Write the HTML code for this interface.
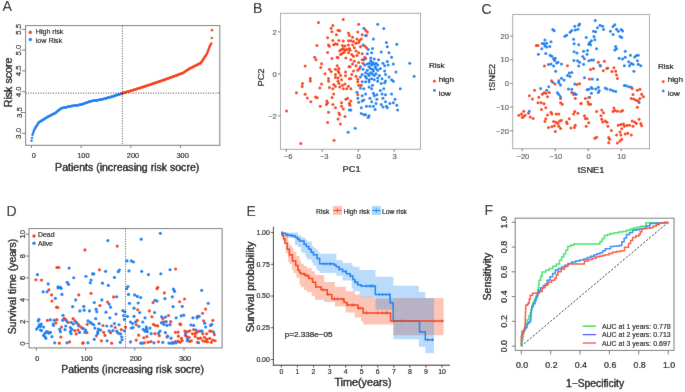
<!DOCTYPE html>
<html><head><meta charset="utf-8"><style>
html,body{margin:0;padding:0;background:#fff;}
svg{display:block;font-family:"Liberation Sans", sans-serif;}
#w{width:685px;height:392px;overflow:hidden;}
text.pl{stroke:none;}
</style></head><body><div id="w">
<svg width="685" height="392" viewBox="0 0 685 392">
<defs><filter id="bl" x="0" y="0" width="685" height="392" filterUnits="userSpaceOnUse"><feConvolveMatrix order="3" kernelMatrix="0.01 0.05 0.01 0.05 0.76 0.05 0.01 0.05 0.01" edgeMode="duplicate" preserveAlpha="false"/></filter></defs>
<g filter="url(#bl)">
<rect width="685" height="392" fill="#fff"/>
<text x="2.60" y="10.80" font-size="14.2" text-anchor="start" fill="#000" stroke="#000" stroke-width="0.35" class="pl">A</text>
<circle cx="31.50" cy="140.79" r="1.25" fill="#1082F0"/>
<circle cx="32.00" cy="137.95" r="1.25" fill="#1082F0"/>
<circle cx="32.49" cy="135.12" r="1.25" fill="#1082F0"/>
<circle cx="32.99" cy="133.40" r="1.25" fill="#1082F0"/>
<circle cx="33.49" cy="131.97" r="1.25" fill="#1082F0"/>
<circle cx="33.98" cy="130.54" r="1.25" fill="#1082F0"/>
<circle cx="34.48" cy="129.41" r="1.25" fill="#1082F0"/>
<circle cx="34.98" cy="128.47" r="1.25" fill="#1082F0"/>
<circle cx="35.47" cy="127.53" r="1.25" fill="#1082F0"/>
<circle cx="35.97" cy="126.68" r="1.25" fill="#1082F0"/>
<circle cx="36.47" cy="125.93" r="1.25" fill="#1082F0"/>
<circle cx="36.96" cy="125.18" r="1.25" fill="#1082F0"/>
<circle cx="37.46" cy="124.43" r="1.25" fill="#1082F0"/>
<circle cx="37.95" cy="123.68" r="1.25" fill="#1082F0"/>
<circle cx="38.45" cy="122.93" r="1.25" fill="#1082F0"/>
<circle cx="38.95" cy="122.36" r="1.25" fill="#1082F0"/>
<circle cx="39.44" cy="122.04" r="1.25" fill="#1082F0"/>
<circle cx="39.94" cy="121.73" r="1.25" fill="#1082F0"/>
<circle cx="40.44" cy="121.41" r="1.25" fill="#1082F0"/>
<circle cx="40.93" cy="121.09" r="1.25" fill="#1082F0"/>
<circle cx="41.43" cy="120.78" r="1.25" fill="#1082F0"/>
<circle cx="41.93" cy="120.46" r="1.25" fill="#1082F0"/>
<circle cx="42.42" cy="120.15" r="1.25" fill="#1082F0"/>
<circle cx="42.92" cy="119.83" r="1.25" fill="#1082F0"/>
<circle cx="43.42" cy="119.53" r="1.25" fill="#1082F0"/>
<circle cx="43.91" cy="119.22" r="1.25" fill="#1082F0"/>
<circle cx="44.41" cy="118.92" r="1.25" fill="#1082F0"/>
<circle cx="44.91" cy="118.61" r="1.25" fill="#1082F0"/>
<circle cx="45.40" cy="118.30" r="1.25" fill="#1082F0"/>
<circle cx="45.90" cy="118.00" r="1.25" fill="#1082F0"/>
<circle cx="46.39" cy="117.69" r="1.25" fill="#1082F0"/>
<circle cx="46.89" cy="117.38" r="1.25" fill="#1082F0"/>
<circle cx="47.39" cy="117.08" r="1.25" fill="#1082F0"/>
<circle cx="47.88" cy="116.83" r="1.25" fill="#1082F0"/>
<circle cx="48.38" cy="116.58" r="1.25" fill="#1082F0"/>
<circle cx="48.88" cy="116.33" r="1.25" fill="#1082F0"/>
<circle cx="49.37" cy="116.08" r="1.25" fill="#1082F0"/>
<circle cx="49.87" cy="115.83" r="1.25" fill="#1082F0"/>
<circle cx="50.37" cy="115.58" r="1.25" fill="#1082F0"/>
<circle cx="50.86" cy="115.33" r="1.25" fill="#1082F0"/>
<circle cx="51.36" cy="115.08" r="1.25" fill="#1082F0"/>
<circle cx="51.86" cy="114.83" r="1.25" fill="#1082F0"/>
<circle cx="52.35" cy="114.58" r="1.25" fill="#1082F0"/>
<circle cx="52.85" cy="114.33" r="1.25" fill="#1082F0"/>
<circle cx="53.35" cy="114.08" r="1.25" fill="#1082F0"/>
<circle cx="53.84" cy="113.83" r="1.25" fill="#1082F0"/>
<circle cx="54.34" cy="113.58" r="1.25" fill="#1082F0"/>
<circle cx="54.84" cy="113.33" r="1.25" fill="#1082F0"/>
<circle cx="55.33" cy="112.94" r="1.25" fill="#1082F0"/>
<circle cx="55.83" cy="112.55" r="1.25" fill="#1082F0"/>
<circle cx="56.33" cy="112.15" r="1.25" fill="#1082F0"/>
<circle cx="56.82" cy="111.76" r="1.25" fill="#1082F0"/>
<circle cx="57.32" cy="111.37" r="1.25" fill="#1082F0"/>
<circle cx="57.81" cy="110.97" r="1.25" fill="#1082F0"/>
<circle cx="58.31" cy="110.58" r="1.25" fill="#1082F0"/>
<circle cx="58.81" cy="110.19" r="1.25" fill="#1082F0"/>
<circle cx="59.30" cy="109.79" r="1.25" fill="#1082F0"/>
<circle cx="59.80" cy="109.40" r="1.25" fill="#1082F0"/>
<circle cx="60.30" cy="109.01" r="1.25" fill="#1082F0"/>
<circle cx="60.79" cy="108.62" r="1.25" fill="#1082F0"/>
<circle cx="61.29" cy="108.31" r="1.25" fill="#1082F0"/>
<circle cx="61.79" cy="108.19" r="1.25" fill="#1082F0"/>
<circle cx="62.28" cy="108.08" r="1.25" fill="#1082F0"/>
<circle cx="62.78" cy="107.96" r="1.25" fill="#1082F0"/>
<circle cx="63.28" cy="107.85" r="1.25" fill="#1082F0"/>
<circle cx="63.77" cy="107.74" r="1.25" fill="#1082F0"/>
<circle cx="64.27" cy="107.62" r="1.25" fill="#1082F0"/>
<circle cx="64.77" cy="107.51" r="1.25" fill="#1082F0"/>
<circle cx="65.26" cy="107.40" r="1.25" fill="#1082F0"/>
<circle cx="65.76" cy="107.28" r="1.25" fill="#1082F0"/>
<circle cx="66.25" cy="107.17" r="1.25" fill="#1082F0"/>
<circle cx="66.75" cy="107.06" r="1.25" fill="#1082F0"/>
<circle cx="67.25" cy="106.94" r="1.25" fill="#1082F0"/>
<circle cx="67.74" cy="106.83" r="1.25" fill="#1082F0"/>
<circle cx="68.24" cy="106.71" r="1.25" fill="#1082F0"/>
<circle cx="68.74" cy="106.60" r="1.25" fill="#1082F0"/>
<circle cx="69.23" cy="106.49" r="1.25" fill="#1082F0"/>
<circle cx="69.73" cy="106.37" r="1.25" fill="#1082F0"/>
<circle cx="70.23" cy="106.26" r="1.25" fill="#1082F0"/>
<circle cx="70.72" cy="106.18" r="1.25" fill="#1082F0"/>
<circle cx="71.22" cy="106.11" r="1.25" fill="#1082F0"/>
<circle cx="71.72" cy="106.03" r="1.25" fill="#1082F0"/>
<circle cx="72.21" cy="105.96" r="1.25" fill="#1082F0"/>
<circle cx="72.71" cy="105.88" r="1.25" fill="#1082F0"/>
<circle cx="73.21" cy="105.81" r="1.25" fill="#1082F0"/>
<circle cx="73.70" cy="105.73" r="1.25" fill="#1082F0"/>
<circle cx="74.20" cy="105.65" r="1.25" fill="#1082F0"/>
<circle cx="74.70" cy="105.58" r="1.25" fill="#1082F0"/>
<circle cx="75.19" cy="105.50" r="1.25" fill="#1082F0"/>
<circle cx="75.69" cy="105.43" r="1.25" fill="#1082F0"/>
<circle cx="76.19" cy="105.35" r="1.25" fill="#1082F0"/>
<circle cx="76.68" cy="105.28" r="1.25" fill="#1082F0"/>
<circle cx="77.18" cy="105.20" r="1.25" fill="#1082F0"/>
<circle cx="77.67" cy="105.13" r="1.25" fill="#1082F0"/>
<circle cx="78.17" cy="105.05" r="1.25" fill="#1082F0"/>
<circle cx="78.67" cy="104.97" r="1.25" fill="#1082F0"/>
<circle cx="79.16" cy="104.90" r="1.25" fill="#1082F0"/>
<circle cx="79.66" cy="104.82" r="1.25" fill="#1082F0"/>
<circle cx="80.16" cy="104.75" r="1.25" fill="#1082F0"/>
<circle cx="80.65" cy="104.67" r="1.25" fill="#1082F0"/>
<circle cx="81.15" cy="104.60" r="1.25" fill="#1082F0"/>
<circle cx="81.65" cy="104.42" r="1.25" fill="#1082F0"/>
<circle cx="82.14" cy="104.24" r="1.25" fill="#1082F0"/>
<circle cx="82.64" cy="104.06" r="1.25" fill="#1082F0"/>
<circle cx="83.14" cy="103.88" r="1.25" fill="#1082F0"/>
<circle cx="83.63" cy="103.70" r="1.25" fill="#1082F0"/>
<circle cx="84.13" cy="103.52" r="1.25" fill="#1082F0"/>
<circle cx="84.63" cy="103.34" r="1.25" fill="#1082F0"/>
<circle cx="85.12" cy="103.16" r="1.25" fill="#1082F0"/>
<circle cx="85.62" cy="102.99" r="1.25" fill="#1082F0"/>
<circle cx="86.12" cy="102.81" r="1.25" fill="#1082F0"/>
<circle cx="86.61" cy="102.63" r="1.25" fill="#1082F0"/>
<circle cx="87.11" cy="102.45" r="1.25" fill="#1082F0"/>
<circle cx="87.60" cy="102.27" r="1.25" fill="#1082F0"/>
<circle cx="88.10" cy="102.09" r="1.25" fill="#1082F0"/>
<circle cx="88.60" cy="101.91" r="1.25" fill="#1082F0"/>
<circle cx="89.09" cy="101.73" r="1.25" fill="#1082F0"/>
<circle cx="89.59" cy="101.55" r="1.25" fill="#1082F0"/>
<circle cx="90.09" cy="101.38" r="1.25" fill="#1082F0"/>
<circle cx="90.58" cy="101.24" r="1.25" fill="#1082F0"/>
<circle cx="91.08" cy="101.16" r="1.25" fill="#1082F0"/>
<circle cx="91.58" cy="101.08" r="1.25" fill="#1082F0"/>
<circle cx="92.07" cy="101.00" r="1.25" fill="#1082F0"/>
<circle cx="92.57" cy="100.93" r="1.25" fill="#1082F0"/>
<circle cx="93.07" cy="100.85" r="1.25" fill="#1082F0"/>
<circle cx="93.56" cy="100.77" r="1.25" fill="#1082F0"/>
<circle cx="94.06" cy="100.69" r="1.25" fill="#1082F0"/>
<circle cx="94.56" cy="100.61" r="1.25" fill="#1082F0"/>
<circle cx="95.05" cy="100.54" r="1.25" fill="#1082F0"/>
<circle cx="95.55" cy="100.46" r="1.25" fill="#1082F0"/>
<circle cx="96.05" cy="100.38" r="1.25" fill="#1082F0"/>
<circle cx="96.54" cy="100.30" r="1.25" fill="#1082F0"/>
<circle cx="97.04" cy="100.23" r="1.25" fill="#1082F0"/>
<circle cx="97.53" cy="100.15" r="1.25" fill="#1082F0"/>
<circle cx="98.03" cy="100.07" r="1.25" fill="#1082F0"/>
<circle cx="98.53" cy="99.99" r="1.25" fill="#1082F0"/>
<circle cx="99.02" cy="99.92" r="1.25" fill="#1082F0"/>
<circle cx="99.52" cy="99.84" r="1.25" fill="#1082F0"/>
<circle cx="100.02" cy="99.76" r="1.25" fill="#1082F0"/>
<circle cx="100.51" cy="99.68" r="1.25" fill="#1082F0"/>
<circle cx="101.01" cy="99.60" r="1.25" fill="#1082F0"/>
<circle cx="101.51" cy="99.47" r="1.25" fill="#1082F0"/>
<circle cx="102.00" cy="99.34" r="1.25" fill="#1082F0"/>
<circle cx="102.50" cy="99.20" r="1.25" fill="#1082F0"/>
<circle cx="103.00" cy="99.07" r="1.25" fill="#1082F0"/>
<circle cx="103.49" cy="98.94" r="1.25" fill="#1082F0"/>
<circle cx="103.99" cy="98.81" r="1.25" fill="#1082F0"/>
<circle cx="104.49" cy="98.67" r="1.25" fill="#1082F0"/>
<circle cx="104.98" cy="98.54" r="1.25" fill="#1082F0"/>
<circle cx="105.48" cy="98.41" r="1.25" fill="#1082F0"/>
<circle cx="105.97" cy="98.27" r="1.25" fill="#1082F0"/>
<circle cx="106.47" cy="98.14" r="1.25" fill="#1082F0"/>
<circle cx="106.97" cy="98.01" r="1.25" fill="#1082F0"/>
<circle cx="107.46" cy="97.87" r="1.25" fill="#1082F0"/>
<circle cx="107.96" cy="97.74" r="1.25" fill="#1082F0"/>
<circle cx="108.46" cy="97.61" r="1.25" fill="#1082F0"/>
<circle cx="108.95" cy="97.47" r="1.25" fill="#1082F0"/>
<circle cx="109.45" cy="97.34" r="1.25" fill="#1082F0"/>
<circle cx="109.95" cy="97.21" r="1.25" fill="#1082F0"/>
<circle cx="110.44" cy="97.07" r="1.25" fill="#1082F0"/>
<circle cx="110.94" cy="96.94" r="1.25" fill="#1082F0"/>
<circle cx="111.44" cy="96.81" r="1.25" fill="#1082F0"/>
<circle cx="111.93" cy="96.68" r="1.25" fill="#1082F0"/>
<circle cx="112.43" cy="96.54" r="1.25" fill="#1082F0"/>
<circle cx="112.93" cy="96.41" r="1.25" fill="#1082F0"/>
<circle cx="113.42" cy="96.28" r="1.25" fill="#1082F0"/>
<circle cx="113.92" cy="96.11" r="1.25" fill="#1082F0"/>
<circle cx="114.42" cy="95.95" r="1.25" fill="#1082F0"/>
<circle cx="114.91" cy="95.78" r="1.25" fill="#1082F0"/>
<circle cx="115.41" cy="95.61" r="1.25" fill="#1082F0"/>
<circle cx="115.91" cy="95.45" r="1.25" fill="#1082F0"/>
<circle cx="116.40" cy="95.28" r="1.25" fill="#1082F0"/>
<circle cx="116.90" cy="95.12" r="1.25" fill="#1082F0"/>
<circle cx="117.39" cy="94.95" r="1.25" fill="#1082F0"/>
<circle cx="117.89" cy="94.79" r="1.25" fill="#1082F0"/>
<circle cx="118.39" cy="94.62" r="1.25" fill="#1082F0"/>
<circle cx="118.88" cy="94.46" r="1.25" fill="#1082F0"/>
<circle cx="119.38" cy="94.29" r="1.25" fill="#1082F0"/>
<circle cx="119.88" cy="94.13" r="1.25" fill="#1082F0"/>
<circle cx="120.37" cy="93.96" r="1.25" fill="#1082F0"/>
<circle cx="120.87" cy="93.79" r="1.25" fill="#1082F0"/>
<circle cx="121.37" cy="93.63" r="1.25" fill="#1082F0"/>
<circle cx="121.86" cy="93.46" r="1.25" fill="#F63F0C"/>
<circle cx="122.36" cy="93.30" r="1.25" fill="#F63F0C"/>
<circle cx="122.86" cy="93.16" r="1.25" fill="#F63F0C"/>
<circle cx="123.35" cy="93.01" r="1.25" fill="#F63F0C"/>
<circle cx="123.85" cy="92.86" r="1.25" fill="#F63F0C"/>
<circle cx="124.35" cy="92.71" r="1.25" fill="#F63F0C"/>
<circle cx="124.84" cy="92.56" r="1.25" fill="#F63F0C"/>
<circle cx="125.34" cy="92.41" r="1.25" fill="#F63F0C"/>
<circle cx="125.83" cy="92.26" r="1.25" fill="#F63F0C"/>
<circle cx="126.33" cy="92.12" r="1.25" fill="#F63F0C"/>
<circle cx="126.83" cy="91.97" r="1.25" fill="#F63F0C"/>
<circle cx="127.32" cy="91.82" r="1.25" fill="#F63F0C"/>
<circle cx="127.82" cy="91.67" r="1.25" fill="#F63F0C"/>
<circle cx="128.32" cy="91.52" r="1.25" fill="#F63F0C"/>
<circle cx="128.81" cy="91.37" r="1.25" fill="#F63F0C"/>
<circle cx="129.31" cy="91.22" r="1.25" fill="#F63F0C"/>
<circle cx="129.81" cy="91.08" r="1.25" fill="#F63F0C"/>
<circle cx="130.30" cy="90.93" r="1.25" fill="#F63F0C"/>
<circle cx="130.80" cy="90.78" r="1.25" fill="#F63F0C"/>
<circle cx="131.30" cy="90.63" r="1.25" fill="#F63F0C"/>
<circle cx="131.79" cy="90.48" r="1.25" fill="#F63F0C"/>
<circle cx="132.29" cy="90.33" r="1.25" fill="#F63F0C"/>
<circle cx="132.79" cy="90.18" r="1.25" fill="#F63F0C"/>
<circle cx="133.28" cy="90.04" r="1.25" fill="#F63F0C"/>
<circle cx="133.78" cy="89.89" r="1.25" fill="#F63F0C"/>
<circle cx="134.28" cy="89.74" r="1.25" fill="#F63F0C"/>
<circle cx="134.77" cy="89.59" r="1.25" fill="#F63F0C"/>
<circle cx="135.27" cy="89.44" r="1.25" fill="#F63F0C"/>
<circle cx="135.76" cy="89.29" r="1.25" fill="#F63F0C"/>
<circle cx="136.26" cy="89.14" r="1.25" fill="#F63F0C"/>
<circle cx="136.76" cy="89.00" r="1.25" fill="#F63F0C"/>
<circle cx="137.25" cy="88.85" r="1.25" fill="#F63F0C"/>
<circle cx="137.75" cy="88.70" r="1.25" fill="#F63F0C"/>
<circle cx="138.25" cy="88.55" r="1.25" fill="#F63F0C"/>
<circle cx="138.74" cy="88.40" r="1.25" fill="#F63F0C"/>
<circle cx="139.24" cy="88.25" r="1.25" fill="#F63F0C"/>
<circle cx="139.74" cy="88.10" r="1.25" fill="#F63F0C"/>
<circle cx="140.23" cy="87.96" r="1.25" fill="#F63F0C"/>
<circle cx="140.73" cy="87.79" r="1.25" fill="#F63F0C"/>
<circle cx="141.23" cy="87.62" r="1.25" fill="#F63F0C"/>
<circle cx="141.72" cy="87.45" r="1.25" fill="#F63F0C"/>
<circle cx="142.22" cy="87.28" r="1.25" fill="#F63F0C"/>
<circle cx="142.72" cy="87.12" r="1.25" fill="#F63F0C"/>
<circle cx="143.21" cy="86.95" r="1.25" fill="#F63F0C"/>
<circle cx="143.71" cy="86.78" r="1.25" fill="#F63F0C"/>
<circle cx="144.21" cy="86.61" r="1.25" fill="#F63F0C"/>
<circle cx="144.70" cy="86.44" r="1.25" fill="#F63F0C"/>
<circle cx="145.20" cy="86.28" r="1.25" fill="#F63F0C"/>
<circle cx="145.69" cy="86.11" r="1.25" fill="#F63F0C"/>
<circle cx="146.19" cy="85.94" r="1.25" fill="#F63F0C"/>
<circle cx="146.69" cy="85.77" r="1.25" fill="#F63F0C"/>
<circle cx="147.18" cy="85.60" r="1.25" fill="#F63F0C"/>
<circle cx="147.68" cy="85.44" r="1.25" fill="#F63F0C"/>
<circle cx="148.18" cy="85.27" r="1.25" fill="#F63F0C"/>
<circle cx="148.67" cy="85.10" r="1.25" fill="#F63F0C"/>
<circle cx="149.17" cy="84.93" r="1.25" fill="#F63F0C"/>
<circle cx="149.67" cy="84.76" r="1.25" fill="#F63F0C"/>
<circle cx="150.16" cy="84.60" r="1.25" fill="#F63F0C"/>
<circle cx="150.66" cy="84.43" r="1.25" fill="#F63F0C"/>
<circle cx="151.16" cy="84.26" r="1.25" fill="#F63F0C"/>
<circle cx="151.65" cy="84.09" r="1.25" fill="#F63F0C"/>
<circle cx="152.15" cy="83.92" r="1.25" fill="#F63F0C"/>
<circle cx="152.65" cy="83.76" r="1.25" fill="#F63F0C"/>
<circle cx="153.14" cy="83.59" r="1.25" fill="#F63F0C"/>
<circle cx="153.64" cy="83.42" r="1.25" fill="#F63F0C"/>
<circle cx="154.14" cy="83.25" r="1.25" fill="#F63F0C"/>
<circle cx="154.63" cy="83.08" r="1.25" fill="#F63F0C"/>
<circle cx="155.13" cy="82.92" r="1.25" fill="#F63F0C"/>
<circle cx="155.62" cy="82.75" r="1.25" fill="#F63F0C"/>
<circle cx="156.12" cy="82.58" r="1.25" fill="#F63F0C"/>
<circle cx="156.62" cy="82.41" r="1.25" fill="#F63F0C"/>
<circle cx="157.11" cy="82.24" r="1.25" fill="#F63F0C"/>
<circle cx="157.61" cy="82.08" r="1.25" fill="#F63F0C"/>
<circle cx="158.11" cy="81.91" r="1.25" fill="#F63F0C"/>
<circle cx="158.60" cy="81.74" r="1.25" fill="#F63F0C"/>
<circle cx="159.10" cy="81.57" r="1.25" fill="#F63F0C"/>
<circle cx="159.60" cy="81.40" r="1.25" fill="#F63F0C"/>
<circle cx="160.09" cy="81.24" r="1.25" fill="#F63F0C"/>
<circle cx="160.59" cy="81.07" r="1.25" fill="#F63F0C"/>
<circle cx="161.09" cy="80.90" r="1.25" fill="#F63F0C"/>
<circle cx="161.58" cy="80.73" r="1.25" fill="#F63F0C"/>
<circle cx="162.08" cy="80.56" r="1.25" fill="#F63F0C"/>
<circle cx="162.58" cy="80.40" r="1.25" fill="#F63F0C"/>
<circle cx="163.07" cy="80.23" r="1.25" fill="#F63F0C"/>
<circle cx="163.57" cy="80.06" r="1.25" fill="#F63F0C"/>
<circle cx="164.07" cy="79.89" r="1.25" fill="#F63F0C"/>
<circle cx="164.56" cy="79.72" r="1.25" fill="#F63F0C"/>
<circle cx="165.06" cy="79.56" r="1.25" fill="#F63F0C"/>
<circle cx="165.56" cy="79.39" r="1.25" fill="#F63F0C"/>
<circle cx="166.05" cy="79.22" r="1.25" fill="#F63F0C"/>
<circle cx="166.55" cy="79.04" r="1.25" fill="#F63F0C"/>
<circle cx="167.04" cy="78.85" r="1.25" fill="#F63F0C"/>
<circle cx="167.54" cy="78.67" r="1.25" fill="#F63F0C"/>
<circle cx="168.04" cy="78.49" r="1.25" fill="#F63F0C"/>
<circle cx="168.53" cy="78.30" r="1.25" fill="#F63F0C"/>
<circle cx="169.03" cy="78.12" r="1.25" fill="#F63F0C"/>
<circle cx="169.53" cy="77.94" r="1.25" fill="#F63F0C"/>
<circle cx="170.02" cy="77.75" r="1.25" fill="#F63F0C"/>
<circle cx="170.52" cy="77.57" r="1.25" fill="#F63F0C"/>
<circle cx="171.02" cy="77.38" r="1.25" fill="#F63F0C"/>
<circle cx="171.51" cy="77.20" r="1.25" fill="#F63F0C"/>
<circle cx="172.01" cy="77.02" r="1.25" fill="#F63F0C"/>
<circle cx="172.51" cy="76.83" r="1.25" fill="#F63F0C"/>
<circle cx="173.00" cy="76.65" r="1.25" fill="#F63F0C"/>
<circle cx="173.50" cy="76.47" r="1.25" fill="#F63F0C"/>
<circle cx="174.00" cy="76.28" r="1.25" fill="#F63F0C"/>
<circle cx="174.49" cy="76.10" r="1.25" fill="#F63F0C"/>
<circle cx="174.99" cy="75.92" r="1.25" fill="#F63F0C"/>
<circle cx="175.48" cy="75.73" r="1.25" fill="#F63F0C"/>
<circle cx="175.98" cy="75.55" r="1.25" fill="#F63F0C"/>
<circle cx="176.48" cy="75.37" r="1.25" fill="#F63F0C"/>
<circle cx="176.97" cy="75.18" r="1.25" fill="#F63F0C"/>
<circle cx="177.47" cy="75.00" r="1.25" fill="#F63F0C"/>
<circle cx="177.97" cy="74.82" r="1.25" fill="#F63F0C"/>
<circle cx="178.46" cy="74.63" r="1.25" fill="#F63F0C"/>
<circle cx="178.96" cy="74.45" r="1.25" fill="#F63F0C"/>
<circle cx="179.46" cy="74.26" r="1.25" fill="#F63F0C"/>
<circle cx="179.95" cy="74.08" r="1.25" fill="#F63F0C"/>
<circle cx="180.45" cy="73.90" r="1.25" fill="#F63F0C"/>
<circle cx="180.95" cy="73.71" r="1.25" fill="#F63F0C"/>
<circle cx="181.44" cy="73.53" r="1.25" fill="#F63F0C"/>
<circle cx="181.94" cy="73.35" r="1.25" fill="#F63F0C"/>
<circle cx="182.44" cy="73.16" r="1.25" fill="#F63F0C"/>
<circle cx="182.93" cy="72.98" r="1.25" fill="#F63F0C"/>
<circle cx="183.43" cy="72.66" r="1.25" fill="#F63F0C"/>
<circle cx="183.93" cy="72.33" r="1.25" fill="#F63F0C"/>
<circle cx="184.42" cy="72.00" r="1.25" fill="#F63F0C"/>
<circle cx="184.92" cy="71.68" r="1.25" fill="#F63F0C"/>
<circle cx="185.41" cy="71.36" r="1.25" fill="#F63F0C"/>
<circle cx="185.91" cy="71.03" r="1.25" fill="#F63F0C"/>
<circle cx="186.41" cy="70.70" r="1.25" fill="#F63F0C"/>
<circle cx="186.90" cy="70.38" r="1.25" fill="#F63F0C"/>
<circle cx="187.40" cy="70.06" r="1.25" fill="#F63F0C"/>
<circle cx="187.90" cy="69.73" r="1.25" fill="#F63F0C"/>
<circle cx="188.39" cy="69.41" r="1.25" fill="#F63F0C"/>
<circle cx="188.89" cy="69.08" r="1.25" fill="#F63F0C"/>
<circle cx="189.39" cy="68.77" r="1.25" fill="#F63F0C"/>
<circle cx="189.88" cy="68.52" r="1.25" fill="#F63F0C"/>
<circle cx="190.38" cy="68.28" r="1.25" fill="#F63F0C"/>
<circle cx="190.88" cy="68.03" r="1.25" fill="#F63F0C"/>
<circle cx="191.37" cy="67.79" r="1.25" fill="#F63F0C"/>
<circle cx="191.87" cy="67.54" r="1.25" fill="#F63F0C"/>
<circle cx="192.37" cy="67.29" r="1.25" fill="#F63F0C"/>
<circle cx="192.86" cy="67.05" r="1.25" fill="#F63F0C"/>
<circle cx="193.36" cy="66.80" r="1.25" fill="#F63F0C"/>
<circle cx="193.86" cy="66.55" r="1.25" fill="#F63F0C"/>
<circle cx="194.35" cy="66.31" r="1.25" fill="#F63F0C"/>
<circle cx="194.85" cy="66.06" r="1.25" fill="#F63F0C"/>
<circle cx="195.34" cy="65.81" r="1.25" fill="#F63F0C"/>
<circle cx="195.84" cy="65.57" r="1.25" fill="#F63F0C"/>
<circle cx="196.34" cy="65.32" r="1.25" fill="#F63F0C"/>
<circle cx="196.83" cy="65.08" r="1.25" fill="#F63F0C"/>
<circle cx="197.33" cy="64.82" r="1.25" fill="#F63F0C"/>
<circle cx="197.83" cy="64.56" r="1.25" fill="#F63F0C"/>
<circle cx="198.32" cy="64.30" r="1.25" fill="#F63F0C"/>
<circle cx="198.82" cy="64.04" r="1.25" fill="#F63F0C"/>
<circle cx="199.32" cy="63.78" r="1.25" fill="#F63F0C"/>
<circle cx="199.81" cy="63.52" r="1.25" fill="#F63F0C"/>
<circle cx="200.31" cy="63.26" r="1.25" fill="#F63F0C"/>
<circle cx="200.81" cy="63.00" r="1.25" fill="#F63F0C"/>
<circle cx="201.30" cy="62.27" r="1.25" fill="#F63F0C"/>
<circle cx="201.80" cy="61.55" r="1.25" fill="#F63F0C"/>
<circle cx="202.30" cy="60.83" r="1.25" fill="#F63F0C"/>
<circle cx="202.79" cy="60.10" r="1.25" fill="#F63F0C"/>
<circle cx="203.29" cy="59.37" r="1.25" fill="#F63F0C"/>
<circle cx="203.79" cy="58.61" r="1.25" fill="#F63F0C"/>
<circle cx="204.28" cy="57.85" r="1.25" fill="#F63F0C"/>
<circle cx="204.78" cy="57.10" r="1.25" fill="#F63F0C"/>
<circle cx="205.28" cy="56.34" r="1.25" fill="#F63F0C"/>
<circle cx="205.77" cy="55.58" r="1.25" fill="#F63F0C"/>
<circle cx="206.27" cy="54.83" r="1.25" fill="#F63F0C"/>
<circle cx="206.76" cy="54.07" r="1.25" fill="#F63F0C"/>
<circle cx="207.26" cy="52.91" r="1.25" fill="#F63F0C"/>
<circle cx="207.76" cy="51.59" r="1.25" fill="#F63F0C"/>
<circle cx="208.25" cy="50.26" r="1.25" fill="#F63F0C"/>
<circle cx="208.75" cy="48.93" r="1.25" fill="#F63F0C"/>
<circle cx="209.25" cy="47.60" r="1.25" fill="#F63F0C"/>
<circle cx="209.74" cy="46.61" r="1.25" fill="#F63F0C"/>
<circle cx="210.24" cy="45.61" r="1.25" fill="#F63F0C"/>
<circle cx="210.74" cy="44.62" r="1.25" fill="#F63F0C"/>
<circle cx="211.23" cy="43.62" r="1.25" fill="#F63F0C"/>
<circle cx="211.88" cy="38.04" r="1.3" fill="#F63F0C"/>
<circle cx="212.03" cy="30.13" r="1.3" fill="#F63F0C"/>
<rect x="25.60" y="25.60" width="194.20" height="119.70" fill="none" stroke="#777" stroke-width="1"/>
<line x1="22.10" y1="133.30" x2="25.60" y2="133.30" stroke="#777" stroke-width="1"/>
<text x="21.50" y="133.30" font-size="7.7" text-anchor="middle" fill="#000" stroke="#000" stroke-width="0.15" transform="rotate(-90 21.50 133.30)">3.0</text>
<line x1="22.10" y1="112.50" x2="25.60" y2="112.50" stroke="#777" stroke-width="1"/>
<text x="21.50" y="112.50" font-size="7.7" text-anchor="middle" fill="#000" stroke="#000" stroke-width="0.15" transform="rotate(-90 21.50 112.50)">3.5</text>
<line x1="22.10" y1="91.70" x2="25.60" y2="91.70" stroke="#777" stroke-width="1"/>
<text x="21.50" y="91.70" font-size="7.7" text-anchor="middle" fill="#000" stroke="#000" stroke-width="0.15" transform="rotate(-90 21.50 91.70)">4.0</text>
<line x1="22.10" y1="70.90" x2="25.60" y2="70.90" stroke="#777" stroke-width="1"/>
<text x="21.50" y="70.90" font-size="7.7" text-anchor="middle" fill="#000" stroke="#000" stroke-width="0.15" transform="rotate(-90 21.50 70.90)">4.5</text>
<line x1="22.10" y1="50.10" x2="25.60" y2="50.10" stroke="#777" stroke-width="1"/>
<text x="21.50" y="50.10" font-size="7.7" text-anchor="middle" fill="#000" stroke="#000" stroke-width="0.15" transform="rotate(-90 21.50 50.10)">5.0</text>
<line x1="22.10" y1="29.30" x2="25.60" y2="29.30" stroke="#777" stroke-width="1"/>
<text x="21.50" y="29.30" font-size="7.7" text-anchor="middle" fill="#000" stroke="#000" stroke-width="0.15" transform="rotate(-90 21.50 29.30)">5.5</text>
<line x1="31.50" y1="145.30" x2="31.50" y2="148.00" stroke="#777" stroke-width="1"/>
<text x="33.70" y="158.00" font-size="7.4" text-anchor="middle" fill="#000" stroke="#000" stroke-width="0.15">0</text>
<line x1="81.15" y1="145.30" x2="81.15" y2="148.00" stroke="#777" stroke-width="1"/>
<text x="83.35" y="158.00" font-size="7.4" text-anchor="middle" fill="#000" stroke="#000" stroke-width="0.15">100</text>
<line x1="130.80" y1="145.30" x2="130.80" y2="148.00" stroke="#777" stroke-width="1"/>
<text x="133.00" y="158.00" font-size="7.4" text-anchor="middle" fill="#000" stroke="#000" stroke-width="0.15">200</text>
<line x1="180.45" y1="145.30" x2="180.45" y2="148.00" stroke="#777" stroke-width="1"/>
<text x="182.65" y="158.00" font-size="7.4" text-anchor="middle" fill="#000" stroke="#000" stroke-width="0.15">300</text>
<text x="127.20" y="170.60" font-size="10.55" text-anchor="middle" fill="#000" stroke="#000" stroke-width="0.35">Patients (increasing risk socre)</text>
<text x="11.90" y="82.40" font-size="10.7" text-anchor="middle" fill="#000" stroke="#000" stroke-width="0.35" transform="rotate(-90 11.90 82.40)">Risk score</text>
<line x1="25.60" y1="93.10" x2="219.80" y2="93.10" stroke="#222" stroke-width="0.9" stroke-dasharray="1,1.5"/>
<line x1="122.40" y1="25.60" x2="122.40" y2="145.30" stroke="#222" stroke-width="0.9" stroke-dasharray="1,1.5"/>
<circle cx="30.30" cy="32.30" r="1.75" fill="#F63F0C"/>
<text x="35.80" y="33.90" font-size="7.1" text-anchor="start" fill="#000" stroke="#000" stroke-width="0.15">High risk</text>
<circle cx="30.30" cy="39.50" r="1.75" fill="#1082F0"/>
<text x="35.80" y="42.90" font-size="7.1" text-anchor="start" fill="#000" stroke="#000" stroke-width="0.15">low Risk</text>
<text x="253.00" y="12.80" font-size="14" text-anchor="start" fill="#000" stroke="#000" stroke-width="0.35" class="pl">B</text>
<circle cx="318.47" cy="22.53" r="1.5" fill="#F63F0C"/>
<circle cx="343.25" cy="19.58" r="1.5" fill="#F63F0C"/>
<circle cx="332.85" cy="25.48" r="1.5" fill="#F63F0C"/>
<circle cx="331.12" cy="28.25" r="1.5" fill="#F63F0C"/>
<circle cx="331.98" cy="31.71" r="1.5" fill="#F63F0C"/>
<circle cx="338.05" cy="30.33" r="1.5" fill="#F63F0C"/>
<circle cx="339.78" cy="30.85" r="1.5" fill="#F63F0C"/>
<circle cx="336.32" cy="34.66" r="1.5" fill="#F63F0C"/>
<circle cx="348.45" cy="32.93" r="1.5" fill="#F63F0C"/>
<circle cx="349.31" cy="35.53" r="1.5" fill="#F63F0C"/>
<circle cx="327.65" cy="37.78" r="1.5" fill="#F63F0C"/>
<circle cx="332.85" cy="40.38" r="1.5" fill="#F63F0C"/>
<circle cx="338.92" cy="40.38" r="1.5" fill="#F63F0C"/>
<circle cx="343.25" cy="41.07" r="1.5" fill="#F63F0C"/>
<circle cx="348.45" cy="40.72" r="1.5" fill="#F63F0C"/>
<circle cx="316.91" cy="45.58" r="1.5" fill="#F63F0C"/>
<circle cx="328.52" cy="45.06" r="1.5" fill="#F63F0C"/>
<circle cx="329.38" cy="46.27" r="1.5" fill="#F63F0C"/>
<circle cx="333.72" cy="44.71" r="1.5" fill="#F63F0C"/>
<circle cx="335.45" cy="43.84" r="1.5" fill="#F63F0C"/>
<circle cx="337.18" cy="44.19" r="1.5" fill="#F63F0C"/>
<circle cx="342.38" cy="45.58" r="1.5" fill="#F63F0C"/>
<circle cx="344.98" cy="45.92" r="1.5" fill="#F63F0C"/>
<circle cx="348.45" cy="45.06" r="1.5" fill="#F63F0C"/>
<circle cx="339.78" cy="50.78" r="1.5" fill="#F63F0C"/>
<circle cx="341.51" cy="49.39" r="1.5" fill="#F63F0C"/>
<circle cx="343.25" cy="48.52" r="1.5" fill="#F63F0C"/>
<circle cx="344.98" cy="50.26" r="1.5" fill="#F63F0C"/>
<circle cx="346.71" cy="49.39" r="1.5" fill="#F63F0C"/>
<circle cx="349.31" cy="48.52" r="1.5" fill="#F63F0C"/>
<circle cx="327.65" cy="52.51" r="1.5" fill="#F63F0C"/>
<circle cx="340.65" cy="54.59" r="1.5" fill="#F63F0C"/>
<circle cx="342.38" cy="53.20" r="1.5" fill="#F63F0C"/>
<circle cx="344.11" cy="52.51" r="1.5" fill="#F63F0C"/>
<circle cx="348.45" cy="52.85" r="1.5" fill="#F63F0C"/>
<circle cx="314.66" cy="57.19" r="1.5" fill="#F63F0C"/>
<circle cx="316.04" cy="59.79" r="1.5" fill="#F63F0C"/>
<circle cx="331.98" cy="58.40" r="1.5" fill="#F63F0C"/>
<circle cx="337.18" cy="57.19" r="1.5" fill="#F63F0C"/>
<circle cx="338.05" cy="57.71" r="1.5" fill="#F63F0C"/>
<circle cx="345.85" cy="58.05" r="1.5" fill="#F63F0C"/>
<circle cx="321.59" cy="63.77" r="1.5" fill="#F63F0C"/>
<circle cx="305.13" cy="66.02" r="1.5" fill="#F63F0C"/>
<circle cx="320.72" cy="67.58" r="1.5" fill="#F63F0C"/>
<circle cx="337.18" cy="65.85" r="1.5" fill="#F63F0C"/>
<circle cx="338.92" cy="68.45" r="1.5" fill="#F63F0C"/>
<circle cx="348.97" cy="66.72" r="1.5" fill="#F63F0C"/>
<circle cx="329.38" cy="69.32" r="1.5" fill="#F63F0C"/>
<circle cx="331.12" cy="71.57" r="1.5" fill="#F63F0C"/>
<circle cx="335.45" cy="69.32" r="1.5" fill="#F63F0C"/>
<circle cx="338.05" cy="71.05" r="1.5" fill="#F63F0C"/>
<circle cx="345.50" cy="71.92" r="1.5" fill="#F63F0C"/>
<circle cx="325.05" cy="73.65" r="1.5" fill="#F63F0C"/>
<circle cx="335.45" cy="74.51" r="1.5" fill="#F63F0C"/>
<circle cx="338.92" cy="72.78" r="1.5" fill="#F63F0C"/>
<circle cx="340.65" cy="75.38" r="1.5" fill="#F63F0C"/>
<circle cx="345.50" cy="75.73" r="1.5" fill="#F63F0C"/>
<circle cx="310.32" cy="78.50" r="1.5" fill="#F63F0C"/>
<circle cx="328.52" cy="78.50" r="1.5" fill="#F63F0C"/>
<circle cx="335.45" cy="77.46" r="1.5" fill="#F63F0C"/>
<circle cx="338.05" cy="77.98" r="1.5" fill="#F63F0C"/>
<circle cx="341.51" cy="79.71" r="1.5" fill="#F63F0C"/>
<circle cx="349.31" cy="78.85" r="1.5" fill="#F63F0C"/>
<circle cx="358.66" cy="24.26" r="1.5" fill="#F63F0C"/>
<circle cx="357.80" cy="32.06" r="1.5" fill="#F63F0C"/>
<circle cx="362.13" cy="34.66" r="1.5" fill="#F63F0C"/>
<circle cx="365.60" cy="30.33" r="1.5" fill="#F63F0C"/>
<circle cx="367.33" cy="32.06" r="1.5" fill="#F63F0C"/>
<circle cx="366.46" cy="35.53" r="1.5" fill="#F63F0C"/>
<circle cx="352.60" cy="37.26" r="1.5" fill="#F63F0C"/>
<circle cx="356.93" cy="38.99" r="1.5" fill="#F63F0C"/>
<circle cx="359.53" cy="40.38" r="1.5" fill="#F63F0C"/>
<circle cx="361.26" cy="38.99" r="1.5" fill="#F63F0C"/>
<circle cx="350.87" cy="40.72" r="1.5" fill="#F63F0C"/>
<circle cx="353.47" cy="41.59" r="1.5" fill="#F63F0C"/>
<circle cx="356.06" cy="43.32" r="1.5" fill="#F63F0C"/>
<circle cx="358.66" cy="42.46" r="1.5" fill="#F63F0C"/>
<circle cx="352.60" cy="45.06" r="1.5" fill="#F63F0C"/>
<circle cx="354.33" cy="47.66" r="1.5" fill="#F63F0C"/>
<circle cx="360.40" cy="46.79" r="1.5" fill="#F63F0C"/>
<circle cx="364.73" cy="45.92" r="1.5" fill="#F63F0C"/>
<circle cx="366.46" cy="47.66" r="1.5" fill="#F63F0C"/>
<circle cx="350.00" cy="50.26" r="1.5" fill="#F63F0C"/>
<circle cx="356.06" cy="51.12" r="1.5" fill="#F63F0C"/>
<circle cx="358.66" cy="52.85" r="1.5" fill="#F63F0C"/>
<circle cx="362.13" cy="53.72" r="1.5" fill="#F63F0C"/>
<circle cx="351.73" cy="54.59" r="1.5" fill="#F63F0C"/>
<circle cx="353.47" cy="56.32" r="1.5" fill="#F63F0C"/>
<circle cx="356.93" cy="55.45" r="1.5" fill="#F63F0C"/>
<circle cx="364.73" cy="57.19" r="1.5" fill="#F63F0C"/>
<circle cx="365.60" cy="58.40" r="1.5" fill="#F63F0C"/>
<circle cx="362.13" cy="59.79" r="1.5" fill="#F63F0C"/>
<circle cx="350.87" cy="59.79" r="1.5" fill="#F63F0C"/>
<circle cx="354.33" cy="61.17" r="1.5" fill="#F63F0C"/>
<circle cx="358.66" cy="62.38" r="1.5" fill="#F63F0C"/>
<circle cx="363.00" cy="63.25" r="1.5" fill="#F63F0C"/>
<circle cx="352.60" cy="64.12" r="1.5" fill="#F63F0C"/>
<circle cx="356.06" cy="65.85" r="1.5" fill="#F63F0C"/>
<circle cx="350.00" cy="66.72" r="1.5" fill="#F63F0C"/>
<circle cx="359.53" cy="68.45" r="1.5" fill="#F63F0C"/>
<circle cx="353.47" cy="71.05" r="1.5" fill="#F63F0C"/>
<circle cx="357.80" cy="70.18" r="1.5" fill="#F63F0C"/>
<circle cx="351.73" cy="74.51" r="1.5" fill="#F63F0C"/>
<circle cx="356.06" cy="76.25" r="1.5" fill="#F63F0C"/>
<circle cx="350.87" cy="78.85" r="1.5" fill="#F63F0C"/>
<circle cx="357.80" cy="79.19" r="1.5" fill="#F63F0C"/>
<circle cx="377.72" cy="24.26" r="1.5" fill="#1082F0"/>
<circle cx="383.79" cy="28.60" r="1.5" fill="#1082F0"/>
<circle cx="363.86" cy="28.25" r="1.5" fill="#1082F0"/>
<circle cx="365.60" cy="35.53" r="1.5" fill="#1082F0"/>
<circle cx="373.39" cy="38.99" r="1.5" fill="#1082F0"/>
<circle cx="386.39" cy="42.46" r="1.5" fill="#1082F0"/>
<circle cx="396.79" cy="44.19" r="1.5" fill="#1082F0"/>
<circle cx="363.00" cy="45.06" r="1.5" fill="#1082F0"/>
<circle cx="387.26" cy="46.79" r="1.5" fill="#1082F0"/>
<circle cx="368.19" cy="49.39" r="1.5" fill="#1082F0"/>
<circle cx="372.53" cy="48.52" r="1.5" fill="#1082F0"/>
<circle cx="381.19" cy="51.99" r="1.5" fill="#1082F0"/>
<circle cx="388.99" cy="52.85" r="1.5" fill="#1082F0"/>
<circle cx="371.66" cy="52.85" r="1.5" fill="#1082F0"/>
<circle cx="367.33" cy="53.72" r="1.5" fill="#1082F0"/>
<circle cx="391.59" cy="57.19" r="1.5" fill="#1082F0"/>
<circle cx="370.79" cy="58.05" r="1.5" fill="#1082F0"/>
<circle cx="374.26" cy="58.92" r="1.5" fill="#1082F0"/>
<circle cx="378.59" cy="59.79" r="1.5" fill="#1082F0"/>
<circle cx="363.86" cy="59.79" r="1.5" fill="#1082F0"/>
<circle cx="387.26" cy="61.52" r="1.5" fill="#1082F0"/>
<circle cx="393.32" cy="64.12" r="1.5" fill="#1082F0"/>
<circle cx="409.78" cy="63.25" r="1.5" fill="#1082F0"/>
<circle cx="382.92" cy="63.25" r="1.5" fill="#1082F0"/>
<circle cx="367.33" cy="64.12" r="1.5" fill="#1082F0"/>
<circle cx="372.53" cy="62.38" r="1.5" fill="#1082F0"/>
<circle cx="375.99" cy="63.25" r="1.5" fill="#1082F0"/>
<circle cx="377.72" cy="64.98" r="1.5" fill="#1082F0"/>
<circle cx="384.66" cy="65.85" r="1.5" fill="#1082F0"/>
<circle cx="388.12" cy="64.98" r="1.5" fill="#1082F0"/>
<circle cx="360.40" cy="66.72" r="1.5" fill="#1082F0"/>
<circle cx="369.06" cy="66.72" r="1.5" fill="#1082F0"/>
<circle cx="375.13" cy="66.72" r="1.5" fill="#1082F0"/>
<circle cx="380.32" cy="68.45" r="1.5" fill="#1082F0"/>
<circle cx="363.00" cy="69.32" r="1.5" fill="#1082F0"/>
<circle cx="367.33" cy="70.18" r="1.5" fill="#1082F0"/>
<circle cx="372.53" cy="69.32" r="1.5" fill="#1082F0"/>
<circle cx="377.72" cy="70.18" r="1.5" fill="#1082F0"/>
<circle cx="384.66" cy="71.05" r="1.5" fill="#1082F0"/>
<circle cx="395.92" cy="71.92" r="1.5" fill="#1082F0"/>
<circle cx="365.60" cy="72.78" r="1.5" fill="#1082F0"/>
<circle cx="370.79" cy="72.78" r="1.5" fill="#1082F0"/>
<circle cx="375.99" cy="73.65" r="1.5" fill="#1082F0"/>
<circle cx="362.13" cy="74.51" r="1.5" fill="#1082F0"/>
<circle cx="369.06" cy="75.38" r="1.5" fill="#1082F0"/>
<circle cx="374.26" cy="75.38" r="1.5" fill="#1082F0"/>
<circle cx="379.46" cy="75.38" r="1.5" fill="#1082F0"/>
<circle cx="385.52" cy="74.51" r="1.5" fill="#1082F0"/>
<circle cx="388.99" cy="77.11" r="1.5" fill="#1082F0"/>
<circle cx="360.40" cy="77.11" r="1.5" fill="#1082F0"/>
<circle cx="366.46" cy="77.98" r="1.5" fill="#1082F0"/>
<circle cx="371.66" cy="78.85" r="1.5" fill="#1082F0"/>
<circle cx="382.06" cy="78.85" r="1.5" fill="#1082F0"/>
<circle cx="414.11" cy="76.25" r="1.5" fill="#1082F0"/>
<circle cx="391.59" cy="79.71" r="1.5" fill="#1082F0"/>
<circle cx="369.41" cy="63.25" r="1.5" fill="#1082F0"/>
<circle cx="371.66" cy="64.98" r="1.5" fill="#1082F0"/>
<circle cx="374.26" cy="64.12" r="1.5" fill="#1082F0"/>
<circle cx="370.45" cy="68.45" r="1.5" fill="#1082F0"/>
<circle cx="373.39" cy="71.05" r="1.5" fill="#1082F0"/>
<circle cx="375.99" cy="68.45" r="1.5" fill="#1082F0"/>
<circle cx="368.19" cy="73.99" r="1.5" fill="#1082F0"/>
<circle cx="372.18" cy="73.99" r="1.5" fill="#1082F0"/>
<circle cx="365.25" cy="76.25" r="1.5" fill="#1082F0"/>
<circle cx="377.72" cy="77.98" r="1.5" fill="#1082F0"/>
<circle cx="369.06" cy="79.71" r="1.5" fill="#1082F0"/>
<circle cx="374.26" cy="79.71" r="1.5" fill="#1082F0"/>
<circle cx="364.73" cy="64.98" r="1.5" fill="#1082F0"/>
<circle cx="370.79" cy="60.65" r="1.5" fill="#1082F0"/>
<circle cx="302.53" cy="83.60" r="1.5" fill="#F63F0C"/>
<circle cx="302.18" cy="86.54" r="1.5" fill="#F63F0C"/>
<circle cx="310.32" cy="81.00" r="1.5" fill="#F63F0C"/>
<circle cx="321.59" cy="84.12" r="1.5" fill="#F63F0C"/>
<circle cx="319.85" cy="87.93" r="1.5" fill="#F63F0C"/>
<circle cx="296.46" cy="92.78" r="1.5" fill="#F63F0C"/>
<circle cx="305.13" cy="94.34" r="1.5" fill="#F63F0C"/>
<circle cx="307.38" cy="97.98" r="1.5" fill="#F63F0C"/>
<circle cx="310.84" cy="101.79" r="1.5" fill="#F63F0C"/>
<circle cx="315.52" cy="96.94" r="1.5" fill="#F63F0C"/>
<circle cx="317.26" cy="97.81" r="1.5" fill="#F63F0C"/>
<circle cx="320.20" cy="106.13" r="1.5" fill="#F63F0C"/>
<circle cx="326.79" cy="100.93" r="1.5" fill="#F63F0C"/>
<circle cx="327.65" cy="102.66" r="1.5" fill="#F63F0C"/>
<circle cx="326.44" cy="104.39" r="1.5" fill="#F63F0C"/>
<circle cx="328.52" cy="112.19" r="1.5" fill="#F63F0C"/>
<circle cx="329.38" cy="87.58" r="1.5" fill="#F63F0C"/>
<circle cx="332.85" cy="88.80" r="1.5" fill="#F63F0C"/>
<circle cx="333.72" cy="84.47" r="1.5" fill="#F63F0C"/>
<circle cx="335.45" cy="86.20" r="1.5" fill="#F63F0C"/>
<circle cx="338.92" cy="83.60" r="1.5" fill="#F63F0C"/>
<circle cx="339.78" cy="87.06" r="1.5" fill="#F63F0C"/>
<circle cx="342.38" cy="85.33" r="1.5" fill="#F63F0C"/>
<circle cx="344.98" cy="84.12" r="1.5" fill="#F63F0C"/>
<circle cx="346.71" cy="88.80" r="1.5" fill="#F63F0C"/>
<circle cx="348.45" cy="86.20" r="1.5" fill="#F63F0C"/>
<circle cx="343.25" cy="88.80" r="1.5" fill="#F63F0C"/>
<circle cx="331.98" cy="97.46" r="1.5" fill="#F63F0C"/>
<circle cx="333.72" cy="94.00" r="1.5" fill="#F63F0C"/>
<circle cx="332.85" cy="104.39" r="1.5" fill="#F63F0C"/>
<circle cx="335.45" cy="107.86" r="1.5" fill="#F63F0C"/>
<circle cx="341.51" cy="102.66" r="1.5" fill="#F63F0C"/>
<circle cx="341.51" cy="106.13" r="1.5" fill="#F63F0C"/>
<circle cx="345.85" cy="99.19" r="1.5" fill="#F63F0C"/>
<circle cx="347.58" cy="98.33" r="1.5" fill="#F63F0C"/>
<circle cx="349.31" cy="103.53" r="1.5" fill="#F63F0C"/>
<circle cx="343.25" cy="109.07" r="1.5" fill="#F63F0C"/>
<circle cx="338.92" cy="113.06" r="1.5" fill="#F63F0C"/>
<circle cx="339.78" cy="114.79" r="1.5" fill="#F63F0C"/>
<circle cx="338.05" cy="119.12" r="1.5" fill="#F63F0C"/>
<circle cx="344.98" cy="116.52" r="1.5" fill="#F63F0C"/>
<circle cx="327.65" cy="122.59" r="1.5" fill="#F63F0C"/>
<circle cx="340.30" cy="123.97" r="1.5" fill="#F63F0C"/>
<circle cx="286.58" cy="110.98" r="1.5" fill="#F63F0C"/>
<circle cx="334.06" cy="140.26" r="1.5" fill="#F63F0C"/>
<circle cx="300.79" cy="143.38" r="1.5" fill="#F63F0C"/>
<circle cx="328.52" cy="81.35" r="1.5" fill="#F63F0C"/>
<circle cx="338.05" cy="81.35" r="1.5" fill="#F63F0C"/>
<circle cx="349.31" cy="110.11" r="1.5" fill="#1082F0"/>
<circle cx="348.10" cy="132.29" r="1.5" fill="#1082F0"/>
<circle cx="357.80" cy="81.87" r="1.5" fill="#F63F0C"/>
<circle cx="358.66" cy="85.33" r="1.5" fill="#F63F0C"/>
<circle cx="361.26" cy="85.33" r="1.5" fill="#F63F0C"/>
<circle cx="357.80" cy="94.86" r="1.5" fill="#F63F0C"/>
<circle cx="350.87" cy="88.80" r="1.5" fill="#F63F0C"/>
<circle cx="350.87" cy="100.93" r="1.5" fill="#F63F0C"/>
<circle cx="350.00" cy="105.26" r="1.5" fill="#F63F0C"/>
<circle cx="362.13" cy="81.87" r="1.5" fill="#1082F0"/>
<circle cx="365.60" cy="81.87" r="1.5" fill="#1082F0"/>
<circle cx="369.06" cy="81.87" r="1.5" fill="#1082F0"/>
<circle cx="377.72" cy="81.35" r="1.5" fill="#1082F0"/>
<circle cx="381.19" cy="83.60" r="1.5" fill="#1082F0"/>
<circle cx="384.66" cy="82.73" r="1.5" fill="#1082F0"/>
<circle cx="385.52" cy="81.00" r="1.5" fill="#1082F0"/>
<circle cx="393.32" cy="81.35" r="1.5" fill="#1082F0"/>
<circle cx="360.40" cy="87.93" r="1.5" fill="#1082F0"/>
<circle cx="363.86" cy="88.80" r="1.5" fill="#1082F0"/>
<circle cx="369.06" cy="87.06" r="1.5" fill="#1082F0"/>
<circle cx="372.53" cy="85.33" r="1.5" fill="#1082F0"/>
<circle cx="371.66" cy="88.80" r="1.5" fill="#1082F0"/>
<circle cx="380.32" cy="90.53" r="1.5" fill="#1082F0"/>
<circle cx="383.79" cy="88.80" r="1.5" fill="#1082F0"/>
<circle cx="400.25" cy="88.80" r="1.5" fill="#1082F0"/>
<circle cx="356.93" cy="92.26" r="1.5" fill="#1082F0"/>
<circle cx="362.13" cy="95.73" r="1.5" fill="#1082F0"/>
<circle cx="365.60" cy="94.00" r="1.5" fill="#1082F0"/>
<circle cx="373.39" cy="93.13" r="1.5" fill="#1082F0"/>
<circle cx="374.26" cy="95.73" r="1.5" fill="#1082F0"/>
<circle cx="376.86" cy="94.86" r="1.5" fill="#1082F0"/>
<circle cx="382.06" cy="94.00" r="1.5" fill="#1082F0"/>
<circle cx="385.52" cy="94.86" r="1.5" fill="#1082F0"/>
<circle cx="391.59" cy="94.00" r="1.5" fill="#1082F0"/>
<circle cx="357.80" cy="98.33" r="1.5" fill="#1082F0"/>
<circle cx="363.86" cy="100.06" r="1.5" fill="#1082F0"/>
<circle cx="369.93" cy="98.33" r="1.5" fill="#1082F0"/>
<circle cx="376.86" cy="99.19" r="1.5" fill="#1082F0"/>
<circle cx="382.92" cy="98.33" r="1.5" fill="#1082F0"/>
<circle cx="395.05" cy="99.19" r="1.5" fill="#1082F0"/>
<circle cx="358.66" cy="102.14" r="1.5" fill="#1082F0"/>
<circle cx="362.13" cy="100.93" r="1.5" fill="#1082F0"/>
<circle cx="371.66" cy="101.79" r="1.5" fill="#1082F0"/>
<circle cx="375.99" cy="103.53" r="1.5" fill="#1082F0"/>
<circle cx="381.19" cy="104.39" r="1.5" fill="#1082F0"/>
<circle cx="385.52" cy="101.79" r="1.5" fill="#1082F0"/>
<circle cx="389.85" cy="103.53" r="1.5" fill="#1082F0"/>
<circle cx="393.32" cy="102.66" r="1.5" fill="#1082F0"/>
<circle cx="396.79" cy="105.26" r="1.5" fill="#1082F0"/>
<circle cx="361.26" cy="107.86" r="1.5" fill="#1082F0"/>
<circle cx="366.46" cy="106.13" r="1.5" fill="#1082F0"/>
<circle cx="369.93" cy="106.13" r="1.5" fill="#1082F0"/>
<circle cx="373.39" cy="106.13" r="1.5" fill="#1082F0"/>
<circle cx="382.92" cy="106.99" r="1.5" fill="#1082F0"/>
<circle cx="386.39" cy="106.13" r="1.5" fill="#1082F0"/>
<circle cx="387.26" cy="107.86" r="1.5" fill="#1082F0"/>
<circle cx="375.13" cy="109.59" r="1.5" fill="#1082F0"/>
<circle cx="397.65" cy="110.11" r="1.5" fill="#1082F0"/>
<circle cx="350.87" cy="110.11" r="1.5" fill="#1082F0"/>
<circle cx="361.26" cy="113.58" r="1.5" fill="#1082F0"/>
<circle cx="363.86" cy="114.79" r="1.5" fill="#1082F0"/>
<circle cx="365.60" cy="114.79" r="1.5" fill="#1082F0"/>
<circle cx="369.06" cy="115.66" r="1.5" fill="#1082F0"/>
<circle cx="368.19" cy="117.39" r="1.5" fill="#1082F0"/>
<circle cx="355.20" cy="128.13" r="1.5" fill="#1082F0"/>
<rect x="280.50" y="13.30" width="140.00" height="136.00" fill="none" stroke="#A8A8A8" stroke-width="1"/>
<line x1="278.00" y1="115.90" x2="280.50" y2="115.90" stroke="#555" stroke-width="0.8"/>
<text x="276.80" y="118.60" font-size="7.6" text-anchor="end" fill="#4D4D4D" stroke="#4D4D4D" stroke-width="0.15">−2</text>
<line x1="278.00" y1="73.90" x2="280.50" y2="73.90" stroke="#555" stroke-width="0.8"/>
<text x="276.80" y="76.60" font-size="7.6" text-anchor="end" fill="#4D4D4D" stroke="#4D4D4D" stroke-width="0.15">0</text>
<line x1="278.00" y1="31.90" x2="280.50" y2="31.90" stroke="#555" stroke-width="0.8"/>
<text x="276.80" y="34.60" font-size="7.6" text-anchor="end" fill="#4D4D4D" stroke="#4D4D4D" stroke-width="0.15">2</text>
<line x1="286.20" y1="149.30" x2="286.20" y2="151.80" stroke="#555" stroke-width="0.8"/>
<text x="288.20" y="159.00" font-size="7.6" text-anchor="middle" fill="#4D4D4D" stroke="#4D4D4D" stroke-width="0.15">−6</text>
<line x1="322.20" y1="149.30" x2="322.20" y2="151.80" stroke="#555" stroke-width="0.8"/>
<text x="324.20" y="159.00" font-size="7.6" text-anchor="middle" fill="#4D4D4D" stroke="#4D4D4D" stroke-width="0.15">−3</text>
<line x1="358.20" y1="149.30" x2="358.20" y2="151.80" stroke="#555" stroke-width="0.8"/>
<text x="358.70" y="159.00" font-size="7.6" text-anchor="middle" fill="#4D4D4D" stroke="#4D4D4D" stroke-width="0.15">0</text>
<line x1="394.20" y1="149.30" x2="394.20" y2="151.80" stroke="#555" stroke-width="0.8"/>
<text x="394.70" y="159.00" font-size="7.6" text-anchor="middle" fill="#4D4D4D" stroke="#4D4D4D" stroke-width="0.15">3</text>
<text x="351.60" y="171.60" font-size="9.3" text-anchor="middle" fill="#000" stroke="#000" stroke-width="0.22">PC1</text>
<text x="263.90" y="77.50" font-size="9.3" text-anchor="middle" fill="#000" stroke="#000" stroke-width="0.22" transform="rotate(-90 263.90 77.50)">PC2</text>
<text x="428.90" y="68.00" font-size="8.1" text-anchor="start" fill="#000" stroke="#000" stroke-width="0.22">Risk</text>
<circle cx="434.40" cy="81.20" r="1.45" fill="#F63F0C"/>
<text x="438.80" y="81.60" font-size="8.1" text-anchor="start" fill="#000" stroke="#000" stroke-width="0.22">high</text>
<circle cx="434.40" cy="90.40" r="1.45" fill="#1082F0"/>
<text x="438.80" y="96.20" font-size="8.1" text-anchor="start" fill="#000" stroke="#000" stroke-width="0.22">low</text>
<text x="481.60" y="13.60" font-size="14" text-anchor="start" fill="#000" stroke="#000" stroke-width="0.35" class="pl">C</text>
<circle cx="536.27" cy="45.55" r="1.5" fill="#F63F0C"/>
<circle cx="538.01" cy="45.55" r="1.5" fill="#F63F0C"/>
<circle cx="544.42" cy="66.01" r="1.5" fill="#F63F0C"/>
<circle cx="567.48" cy="65.66" r="1.5" fill="#F63F0C"/>
<circle cx="551.53" cy="80.75" r="1.5" fill="#F63F0C"/>
<circle cx="552.74" cy="29.60" r="1.5" fill="#1082F0"/>
<circle cx="554.13" cy="30.82" r="1.5" fill="#1082F0"/>
<circle cx="544.94" cy="40.01" r="1.5" fill="#1082F0"/>
<circle cx="542.34" cy="43.47" r="1.5" fill="#1082F0"/>
<circle cx="544.07" cy="43.82" r="1.5" fill="#1082F0"/>
<circle cx="546.67" cy="43.13" r="1.5" fill="#1082F0"/>
<circle cx="551.01" cy="41.74" r="1.5" fill="#1082F0"/>
<circle cx="544.94" cy="46.07" r="1.5" fill="#1082F0"/>
<circle cx="546.67" cy="46.94" r="1.5" fill="#1082F0"/>
<circle cx="549.79" cy="46.59" r="1.5" fill="#1082F0"/>
<circle cx="541.82" cy="48.67" r="1.5" fill="#1082F0"/>
<circle cx="538.35" cy="54.22" r="1.5" fill="#1082F0"/>
<circle cx="545.81" cy="53.53" r="1.5" fill="#1082F0"/>
<circle cx="550.14" cy="55.26" r="1.5" fill="#1082F0"/>
<circle cx="551.88" cy="56.13" r="1.5" fill="#1082F0"/>
<circle cx="553.61" cy="58.73" r="1.5" fill="#1082F0"/>
<circle cx="555.34" cy="58.21" r="1.5" fill="#1082F0"/>
<circle cx="554.48" cy="60.46" r="1.5" fill="#1082F0"/>
<circle cx="556.73" cy="62.89" r="1.5" fill="#1082F0"/>
<circle cx="557.94" cy="62.20" r="1.5" fill="#1082F0"/>
<circle cx="561.41" cy="63.93" r="1.5" fill="#1082F0"/>
<circle cx="548.41" cy="64.62" r="1.5" fill="#1082F0"/>
<circle cx="551.01" cy="63.93" r="1.5" fill="#1082F0"/>
<circle cx="553.61" cy="66.01" r="1.5" fill="#1082F0"/>
<circle cx="555.69" cy="71.21" r="1.5" fill="#1082F0"/>
<circle cx="564.88" cy="36.19" r="1.5" fill="#1082F0"/>
<circle cx="566.61" cy="35.15" r="1.5" fill="#1082F0"/>
<circle cx="570.08" cy="32.20" r="1.5" fill="#1082F0"/>
<circle cx="571.81" cy="30.47" r="1.5" fill="#1082F0"/>
<circle cx="574.76" cy="26.14" r="1.5" fill="#1082F0"/>
<circle cx="577.88" cy="29.26" r="1.5" fill="#1082F0"/>
<circle cx="578.75" cy="25.27" r="1.5" fill="#1082F0"/>
<circle cx="579.61" cy="24.06" r="1.5" fill="#1082F0"/>
<circle cx="575.28" cy="29.95" r="1.5" fill="#1082F0"/>
<circle cx="573.55" cy="39.14" r="1.5" fill="#1082F0"/>
<circle cx="574.07" cy="43.82" r="1.5" fill="#1082F0"/>
<circle cx="578.75" cy="44.86" r="1.5" fill="#1082F0"/>
<circle cx="574.07" cy="51.79" r="1.5" fill="#1082F0"/>
<circle cx="577.01" cy="53.01" r="1.5" fill="#1082F0"/>
<circle cx="573.89" cy="60.46" r="1.5" fill="#1082F0"/>
<circle cx="577.53" cy="60.81" r="1.5" fill="#1082F0"/>
<circle cx="579.61" cy="62.20" r="1.5" fill="#1082F0"/>
<circle cx="578.75" cy="66.01" r="1.5" fill="#1082F0"/>
<circle cx="569.21" cy="72.95" r="1.5" fill="#1082F0"/>
<circle cx="571.81" cy="72.60" r="1.5" fill="#1082F0"/>
<circle cx="567.48" cy="75.55" r="1.5" fill="#1082F0"/>
<circle cx="570.08" cy="76.41" r="1.5" fill="#1082F0"/>
<circle cx="561.41" cy="78.15" r="1.5" fill="#1082F0"/>
<circle cx="564.01" cy="79.88" r="1.5" fill="#1082F0"/>
<circle cx="558.81" cy="80.75" r="1.5" fill="#1082F0"/>
<circle cx="598.34" cy="62.20" r="1.5" fill="#F63F0C"/>
<circle cx="604.40" cy="61.16" r="1.5" fill="#F63F0C"/>
<circle cx="600.42" cy="66.01" r="1.5" fill="#F63F0C"/>
<circle cx="590.54" cy="69.48" r="1.5" fill="#F63F0C"/>
<circle cx="593.48" cy="68.61" r="1.5" fill="#F63F0C"/>
<circle cx="603.19" cy="70.87" r="1.5" fill="#F63F0C"/>
<circle cx="606.66" cy="68.61" r="1.5" fill="#F63F0C"/>
<circle cx="607.87" cy="68.09" r="1.5" fill="#F63F0C"/>
<circle cx="611.86" cy="71.56" r="1.5" fill="#F63F0C"/>
<circle cx="613.94" cy="67.74" r="1.5" fill="#F63F0C"/>
<circle cx="615.67" cy="71.21" r="1.5" fill="#F63F0C"/>
<circle cx="616.54" cy="75.03" r="1.5" fill="#F63F0C"/>
<circle cx="617.41" cy="78.49" r="1.5" fill="#F63F0C"/>
<circle cx="589.32" cy="79.01" r="1.5" fill="#F63F0C"/>
<circle cx="595.22" cy="20.59" r="1.5" fill="#1082F0"/>
<circle cx="597.47" cy="27.87" r="1.5" fill="#1082F0"/>
<circle cx="600.07" cy="25.27" r="1.5" fill="#1082F0"/>
<circle cx="602.67" cy="26.14" r="1.5" fill="#1082F0"/>
<circle cx="603.54" cy="29.60" r="1.5" fill="#1082F0"/>
<circle cx="593.48" cy="31.34" r="1.5" fill="#1082F0"/>
<circle cx="595.74" cy="31.68" r="1.5" fill="#1082F0"/>
<circle cx="594.00" cy="36.54" r="1.5" fill="#1082F0"/>
<circle cx="586.20" cy="37.40" r="1.5" fill="#1082F0"/>
<circle cx="594.87" cy="39.66" r="1.5" fill="#1082F0"/>
<circle cx="591.40" cy="40.87" r="1.5" fill="#1082F0"/>
<circle cx="589.67" cy="42.61" r="1.5" fill="#1082F0"/>
<circle cx="588.80" cy="44.34" r="1.5" fill="#1082F0"/>
<circle cx="590.54" cy="44.86" r="1.5" fill="#1082F0"/>
<circle cx="596.60" cy="48.67" r="1.5" fill="#1082F0"/>
<circle cx="613.07" cy="26.48" r="1.5" fill="#1082F0"/>
<circle cx="614.81" cy="24.75" r="1.5" fill="#1082F0"/>
<circle cx="616.54" cy="29.26" r="1.5" fill="#1082F0"/>
<circle cx="618.27" cy="31.34" r="1.5" fill="#1082F0"/>
<circle cx="621.22" cy="29.60" r="1.5" fill="#1082F0"/>
<circle cx="622.61" cy="30.99" r="1.5" fill="#1082F0"/>
<circle cx="610.47" cy="31.34" r="1.5" fill="#1082F0"/>
<circle cx="613.07" cy="34.46" r="1.5" fill="#1082F0"/>
<circle cx="620.01" cy="36.54" r="1.5" fill="#1082F0"/>
<circle cx="621.74" cy="37.40" r="1.5" fill="#1082F0"/>
<circle cx="615.67" cy="46.59" r="1.5" fill="#1082F0"/>
<circle cx="616.54" cy="48.67" r="1.5" fill="#1082F0"/>
<circle cx="614.81" cy="50.06" r="1.5" fill="#1082F0"/>
<circle cx="583.60" cy="51.27" r="1.5" fill="#1082F0"/>
<circle cx="587.59" cy="50.41" r="1.5" fill="#1082F0"/>
<circle cx="587.07" cy="54.22" r="1.5" fill="#1082F0"/>
<circle cx="582.73" cy="56.48" r="1.5" fill="#1082F0"/>
<circle cx="584.47" cy="58.73" r="1.5" fill="#1082F0"/>
<circle cx="588.80" cy="60.81" r="1.5" fill="#1082F0"/>
<circle cx="591.40" cy="59.94" r="1.5" fill="#1082F0"/>
<circle cx="593.48" cy="59.94" r="1.5" fill="#1082F0"/>
<circle cx="583.60" cy="64.28" r="1.5" fill="#1082F0"/>
<circle cx="625.21" cy="51.27" r="1.5" fill="#1082F0"/>
<circle cx="619.14" cy="58.21" r="1.5" fill="#1082F0"/>
<circle cx="622.61" cy="59.08" r="1.5" fill="#1082F0"/>
<circle cx="625.21" cy="57.34" r="1.5" fill="#1082F0"/>
<circle cx="630.41" cy="55.26" r="1.5" fill="#1082F0"/>
<circle cx="634.74" cy="57.00" r="1.5" fill="#1082F0"/>
<circle cx="636.48" cy="55.61" r="1.5" fill="#1082F0"/>
<circle cx="638.21" cy="55.26" r="1.5" fill="#1082F0"/>
<circle cx="628.68" cy="61.68" r="1.5" fill="#1082F0"/>
<circle cx="631.28" cy="63.41" r="1.5" fill="#1082F0"/>
<circle cx="633.01" cy="64.28" r="1.5" fill="#1082F0"/>
<circle cx="637.35" cy="60.81" r="1.5" fill="#1082F0"/>
<circle cx="638.21" cy="64.28" r="1.5" fill="#1082F0"/>
<circle cx="640.81" cy="65.66" r="1.5" fill="#1082F0"/>
<circle cx="624.34" cy="65.66" r="1.5" fill="#1082F0"/>
<circle cx="629.54" cy="65.66" r="1.5" fill="#1082F0"/>
<circle cx="633.88" cy="71.21" r="1.5" fill="#1082F0"/>
<circle cx="600.07" cy="65.14" r="1.5" fill="#1082F0"/>
<circle cx="597.47" cy="79.53" r="1.5" fill="#1082F0"/>
<circle cx="592.27" cy="79.01" r="1.5" fill="#1082F0"/>
<circle cx="584.47" cy="77.80" r="1.5" fill="#1082F0"/>
<circle cx="534.54" cy="90.32" r="1.5" fill="#F63F0C"/>
<circle cx="529.34" cy="95.87" r="1.5" fill="#F63F0C"/>
<circle cx="532.46" cy="98.99" r="1.5" fill="#F63F0C"/>
<circle cx="538.87" cy="97.26" r="1.5" fill="#F63F0C"/>
<circle cx="542.34" cy="94.14" r="1.5" fill="#F63F0C"/>
<circle cx="544.07" cy="92.75" r="1.5" fill="#F63F0C"/>
<circle cx="545.81" cy="93.27" r="1.5" fill="#F63F0C"/>
<circle cx="549.27" cy="92.40" r="1.5" fill="#F63F0C"/>
<circle cx="547.54" cy="96.74" r="1.5" fill="#F63F0C"/>
<circle cx="555.00" cy="84.08" r="1.5" fill="#F63F0C"/>
<circle cx="538.01" cy="102.80" r="1.5" fill="#F63F0C"/>
<circle cx="541.13" cy="102.80" r="1.5" fill="#F63F0C"/>
<circle cx="544.07" cy="103.67" r="1.5" fill="#F63F0C"/>
<circle cx="545.81" cy="107.66" r="1.5" fill="#F63F0C"/>
<circle cx="541.47" cy="109.39" r="1.5" fill="#F63F0C"/>
<circle cx="518.93" cy="115.29" r="1.5" fill="#F63F0C"/>
<circle cx="521.54" cy="114.07" r="1.5" fill="#F63F0C"/>
<circle cx="523.79" cy="111.13" r="1.5" fill="#F63F0C"/>
<circle cx="523.27" cy="116.67" r="1.5" fill="#F63F0C"/>
<circle cx="525.00" cy="115.29" r="1.5" fill="#F63F0C"/>
<circle cx="522.40" cy="117.54" r="1.5" fill="#F63F0C"/>
<circle cx="528.47" cy="113.21" r="1.5" fill="#F63F0C"/>
<circle cx="530.20" cy="117.02" r="1.5" fill="#F63F0C"/>
<circle cx="533.15" cy="118.41" r="1.5" fill="#F63F0C"/>
<circle cx="551.01" cy="112.34" r="1.5" fill="#F63F0C"/>
<circle cx="551.88" cy="114.07" r="1.5" fill="#F63F0C"/>
<circle cx="547.54" cy="114.94" r="1.5" fill="#F63F0C"/>
<circle cx="556.21" cy="114.07" r="1.5" fill="#F63F0C"/>
<circle cx="558.81" cy="114.07" r="1.5" fill="#F63F0C"/>
<circle cx="545.81" cy="118.75" r="1.5" fill="#F63F0C"/>
<circle cx="544.94" cy="121.53" r="1.5" fill="#F63F0C"/>
<circle cx="553.61" cy="121.53" r="1.5" fill="#F63F0C"/>
<circle cx="556.21" cy="122.22" r="1.5" fill="#F63F0C"/>
<circle cx="557.94" cy="123.61" r="1.5" fill="#F63F0C"/>
<circle cx="559.68" cy="121.01" r="1.5" fill="#F63F0C"/>
<circle cx="561.41" cy="120.14" r="1.5" fill="#F63F0C"/>
<circle cx="558.81" cy="126.21" r="1.5" fill="#F63F0C"/>
<circle cx="554.48" cy="125.69" r="1.5" fill="#F63F0C"/>
<circle cx="551.88" cy="126.73" r="1.5" fill="#F63F0C"/>
<circle cx="548.41" cy="127.42" r="1.5" fill="#F63F0C"/>
<circle cx="560.54" cy="128.46" r="1.5" fill="#F63F0C"/>
<circle cx="555.34" cy="131.41" r="1.5" fill="#F63F0C"/>
<circle cx="566.61" cy="121.88" r="1.5" fill="#F63F0C"/>
<circle cx="567.13" cy="123.61" r="1.5" fill="#F63F0C"/>
<circle cx="569.21" cy="118.75" r="1.5" fill="#F63F0C"/>
<circle cx="570.95" cy="127.94" r="1.5" fill="#F63F0C"/>
<circle cx="574.41" cy="127.42" r="1.5" fill="#F63F0C"/>
<circle cx="575.28" cy="125.34" r="1.5" fill="#F63F0C"/>
<circle cx="560.54" cy="102.80" r="1.5" fill="#F63F0C"/>
<circle cx="562.28" cy="104.19" r="1.5" fill="#F63F0C"/>
<circle cx="560.54" cy="98.47" r="1.5" fill="#F63F0C"/>
<circle cx="571.81" cy="92.40" r="1.5" fill="#F63F0C"/>
<circle cx="573.55" cy="94.48" r="1.5" fill="#F63F0C"/>
<circle cx="575.28" cy="98.47" r="1.5" fill="#F63F0C"/>
<circle cx="573.55" cy="114.07" r="1.5" fill="#F63F0C"/>
<circle cx="574.76" cy="111.47" r="1.5" fill="#F63F0C"/>
<circle cx="577.88" cy="113.21" r="1.5" fill="#F63F0C"/>
<circle cx="581.00" cy="103.67" r="1.5" fill="#F63F0C"/>
<circle cx="577.01" cy="84.60" r="1.5" fill="#F63F0C"/>
<circle cx="579.61" cy="83.73" r="1.5" fill="#F63F0C"/>
<circle cx="540.61" cy="88.59" r="1.5" fill="#1082F0"/>
<circle cx="546.67" cy="90.32" r="1.5" fill="#1082F0"/>
<circle cx="548.75" cy="86.85" r="1.5" fill="#1082F0"/>
<circle cx="552.74" cy="82.35" r="1.5" fill="#1082F0"/>
<circle cx="558.81" cy="82.87" r="1.5" fill="#1082F0"/>
<circle cx="560.54" cy="85.12" r="1.5" fill="#1082F0"/>
<circle cx="557.42" cy="92.75" r="1.5" fill="#1082F0"/>
<circle cx="558.81" cy="94.48" r="1.5" fill="#1082F0"/>
<circle cx="560.54" cy="96.74" r="1.5" fill="#1082F0"/>
<circle cx="568.35" cy="88.93" r="1.5" fill="#1082F0"/>
<circle cx="571.81" cy="89.28" r="1.5" fill="#1082F0"/>
<circle cx="574.76" cy="84.08" r="1.5" fill="#1082F0"/>
<circle cx="574.41" cy="93.27" r="1.5" fill="#1082F0"/>
<circle cx="576.15" cy="94.48" r="1.5" fill="#1082F0"/>
<circle cx="529.34" cy="111.13" r="1.5" fill="#1082F0"/>
<circle cx="587.07" cy="89.80" r="1.5" fill="#1082F0"/>
<circle cx="588.80" cy="89.28" r="1.5" fill="#1082F0"/>
<circle cx="591.40" cy="87.55" r="1.5" fill="#1082F0"/>
<circle cx="592.27" cy="88.59" r="1.5" fill="#1082F0"/>
<circle cx="595.74" cy="88.93" r="1.5" fill="#1082F0"/>
<circle cx="598.34" cy="87.20" r="1.5" fill="#1082F0"/>
<circle cx="599.20" cy="90.67" r="1.5" fill="#1082F0"/>
<circle cx="598.34" cy="92.40" r="1.5" fill="#1082F0"/>
<circle cx="591.40" cy="93.27" r="1.5" fill="#1082F0"/>
<circle cx="605.27" cy="88.07" r="1.5" fill="#1082F0"/>
<circle cx="607.01" cy="88.93" r="1.5" fill="#1082F0"/>
<circle cx="610.47" cy="89.80" r="1.5" fill="#1082F0"/>
<circle cx="613.07" cy="90.67" r="1.5" fill="#1082F0"/>
<circle cx="615.67" cy="91.54" r="1.5" fill="#1082F0"/>
<circle cx="624.34" cy="85.47" r="1.5" fill="#1082F0"/>
<circle cx="626.08" cy="85.81" r="1.5" fill="#1082F0"/>
<circle cx="628.68" cy="86.85" r="1.5" fill="#1082F0"/>
<circle cx="631.28" cy="87.20" r="1.5" fill="#1082F0"/>
<circle cx="588.80" cy="97.60" r="1.5" fill="#1082F0"/>
<circle cx="639.08" cy="102.46" r="1.5" fill="#1082F0"/>
<circle cx="585.33" cy="98.47" r="1.5" fill="#F63F0C"/>
<circle cx="589.67" cy="97.26" r="1.5" fill="#F63F0C"/>
<circle cx="587.93" cy="101.94" r="1.5" fill="#F63F0C"/>
<circle cx="588.80" cy="104.19" r="1.5" fill="#F63F0C"/>
<circle cx="590.54" cy="104.19" r="1.5" fill="#F63F0C"/>
<circle cx="581.00" cy="103.15" r="1.5" fill="#F63F0C"/>
<circle cx="632.14" cy="88.59" r="1.5" fill="#F63F0C"/>
<circle cx="637.35" cy="90.32" r="1.5" fill="#F63F0C"/>
<circle cx="639.95" cy="89.28" r="1.5" fill="#F63F0C"/>
<circle cx="641.68" cy="94.14" r="1.5" fill="#F63F0C"/>
<circle cx="643.41" cy="96.74" r="1.5" fill="#F63F0C"/>
<circle cx="633.01" cy="94.48" r="1.5" fill="#F63F0C"/>
<circle cx="631.28" cy="98.47" r="1.5" fill="#F63F0C"/>
<circle cx="633.88" cy="98.99" r="1.5" fill="#F63F0C"/>
<circle cx="636.13" cy="100.20" r="1.5" fill="#F63F0C"/>
<circle cx="638.21" cy="101.07" r="1.5" fill="#F63F0C"/>
<circle cx="639.95" cy="98.47" r="1.5" fill="#F63F0C"/>
<circle cx="637.35" cy="107.14" r="1.5" fill="#F63F0C"/>
<circle cx="596.60" cy="111.47" r="1.5" fill="#F63F0C"/>
<circle cx="601.80" cy="110.09" r="1.5" fill="#F63F0C"/>
<circle cx="603.54" cy="112.86" r="1.5" fill="#F63F0C"/>
<circle cx="600.94" cy="115.81" r="1.5" fill="#F63F0C"/>
<circle cx="601.80" cy="119.27" r="1.5" fill="#F63F0C"/>
<circle cx="602.67" cy="121.88" r="1.5" fill="#F63F0C"/>
<circle cx="605.27" cy="121.01" r="1.5" fill="#F63F0C"/>
<circle cx="607.01" cy="122.22" r="1.5" fill="#F63F0C"/>
<circle cx="613.94" cy="108.01" r="1.5" fill="#F63F0C"/>
<circle cx="614.81" cy="110.61" r="1.5" fill="#F63F0C"/>
<circle cx="613.07" cy="111.47" r="1.5" fill="#F63F0C"/>
<circle cx="617.41" cy="111.13" r="1.5" fill="#F63F0C"/>
<circle cx="620.88" cy="111.47" r="1.5" fill="#F63F0C"/>
<circle cx="622.61" cy="110.61" r="1.5" fill="#F63F0C"/>
<circle cx="584.47" cy="115.81" r="1.5" fill="#F63F0C"/>
<circle cx="585.33" cy="118.41" r="1.5" fill="#F63F0C"/>
<circle cx="587.07" cy="118.75" r="1.5" fill="#F63F0C"/>
<circle cx="588.80" cy="122.74" r="1.5" fill="#F63F0C"/>
<circle cx="586.20" cy="126.21" r="1.5" fill="#F63F0C"/>
<circle cx="607.87" cy="126.21" r="1.5" fill="#F63F0C"/>
<circle cx="611.34" cy="130.54" r="1.5" fill="#F63F0C"/>
<circle cx="618.27" cy="125.34" r="1.5" fill="#F63F0C"/>
<circle cx="620.88" cy="124.48" r="1.5" fill="#F63F0C"/>
<circle cx="623.48" cy="123.96" r="1.5" fill="#F63F0C"/>
<circle cx="624.34" cy="126.21" r="1.5" fill="#F63F0C"/>
<circle cx="626.94" cy="125.34" r="1.5" fill="#F63F0C"/>
<circle cx="629.54" cy="125.34" r="1.5" fill="#F63F0C"/>
<circle cx="633.01" cy="126.21" r="1.5" fill="#F63F0C"/>
<circle cx="632.14" cy="121.01" r="1.5" fill="#F63F0C"/>
<circle cx="634.74" cy="121.88" r="1.5" fill="#F63F0C"/>
<circle cx="636.48" cy="123.61" r="1.5" fill="#F63F0C"/>
<circle cx="639.08" cy="119.27" r="1.5" fill="#F63F0C"/>
<circle cx="640.81" cy="123.61" r="1.5" fill="#F63F0C"/>
<circle cx="641.68" cy="125.69" r="1.5" fill="#F63F0C"/>
<circle cx="621.74" cy="128.81" r="1.5" fill="#F63F0C"/>
<circle cx="620.01" cy="131.93" r="1.5" fill="#F63F0C"/>
<circle cx="616.54" cy="134.88" r="1.5" fill="#F63F0C"/>
<circle cx="620.88" cy="134.88" r="1.5" fill="#F63F0C"/>
<circle cx="625.21" cy="134.01" r="1.5" fill="#F63F0C"/>
<circle cx="627.81" cy="133.14" r="1.5" fill="#F63F0C"/>
<circle cx="631.28" cy="134.88" r="1.5" fill="#F63F0C"/>
<circle cx="621.74" cy="139.21" r="1.5" fill="#F63F0C"/>
<circle cx="620.01" cy="140.95" r="1.5" fill="#F63F0C"/>
<circle cx="617.41" cy="143.03" r="1.5" fill="#F63F0C"/>
<circle cx="608.74" cy="137.48" r="1.5" fill="#F63F0C"/>
<circle cx="609.61" cy="139.21" r="1.5" fill="#F63F0C"/>
<circle cx="608.74" cy="142.68" r="1.5" fill="#F63F0C"/>
<circle cx="594.87" cy="138.35" r="1.5" fill="#F63F0C"/>
<circle cx="596.60" cy="137.13" r="1.5" fill="#F63F0C"/>
<rect x="512.70" y="14.50" width="136.80" height="134.20" fill="none" stroke="#A8A8A8" stroke-width="1"/>
<line x1="510.20" y1="130.80" x2="512.70" y2="130.80" stroke="#555" stroke-width="0.8"/>
<text x="509.00" y="133.50" font-size="7.6" text-anchor="end" fill="#4D4D4D" stroke="#4D4D4D" stroke-width="0.15">−20</text>
<line x1="510.20" y1="107.10" x2="512.70" y2="107.10" stroke="#555" stroke-width="0.8"/>
<text x="509.00" y="109.80" font-size="7.6" text-anchor="end" fill="#4D4D4D" stroke="#4D4D4D" stroke-width="0.15">−10</text>
<line x1="510.20" y1="83.40" x2="512.70" y2="83.40" stroke="#555" stroke-width="0.8"/>
<text x="509.00" y="86.10" font-size="7.6" text-anchor="end" fill="#4D4D4D" stroke="#4D4D4D" stroke-width="0.15">0</text>
<line x1="510.20" y1="59.70" x2="512.70" y2="59.70" stroke="#555" stroke-width="0.8"/>
<text x="509.00" y="62.40" font-size="7.6" text-anchor="end" fill="#4D4D4D" stroke="#4D4D4D" stroke-width="0.15">10</text>
<line x1="510.20" y1="36.00" x2="512.70" y2="36.00" stroke="#555" stroke-width="0.8"/>
<text x="509.00" y="38.70" font-size="7.6" text-anchor="end" fill="#4D4D4D" stroke="#4D4D4D" stroke-width="0.15">20</text>
<line x1="522.20" y1="148.70" x2="522.20" y2="151.20" stroke="#555" stroke-width="0.8"/>
<text x="522.90" y="158.80" font-size="7.6" text-anchor="middle" fill="#4D4D4D" stroke="#4D4D4D" stroke-width="0.15">−20</text>
<line x1="555.20" y1="148.70" x2="555.20" y2="151.20" stroke="#555" stroke-width="0.8"/>
<text x="555.90" y="158.80" font-size="7.6" text-anchor="middle" fill="#4D4D4D" stroke="#4D4D4D" stroke-width="0.15">−10</text>
<line x1="588.20" y1="148.70" x2="588.20" y2="151.20" stroke="#555" stroke-width="0.8"/>
<text x="588.50" y="158.80" font-size="7.6" text-anchor="middle" fill="#4D4D4D" stroke="#4D4D4D" stroke-width="0.15">0</text>
<line x1="621.20" y1="148.70" x2="621.20" y2="151.20" stroke="#555" stroke-width="0.8"/>
<text x="621.50" y="158.80" font-size="7.6" text-anchor="middle" fill="#4D4D4D" stroke="#4D4D4D" stroke-width="0.15">10</text>
<text x="591.00" y="173.40" font-size="9.2" text-anchor="middle" fill="#000" stroke="#000" stroke-width="0.22">tSNE1</text>
<text x="495.40" y="77.10" font-size="9.2" text-anchor="middle" fill="#000" stroke="#000" stroke-width="0.22" transform="rotate(-90 495.40 77.10)">tSNE2</text>
<text x="657.90" y="68.80" font-size="8.1" text-anchor="start" fill="#000" stroke="#000" stroke-width="0.22">Risk</text>
<circle cx="663.20" cy="81.70" r="1.45" fill="#F63F0C"/>
<text x="667.80" y="82.40" font-size="8.1" text-anchor="start" fill="#000" stroke="#000" stroke-width="0.22">high</text>
<circle cx="663.20" cy="91.00" r="1.45" fill="#1082F0"/>
<text x="667.80" y="96.00" font-size="8.1" text-anchor="start" fill="#000" stroke="#000" stroke-width="0.22">low</text>
<text x="6.40" y="216.10" font-size="14" text-anchor="start" fill="#000" stroke="#000" stroke-width="0.35" class="pl">D</text>
<circle cx="84.90" cy="249.90" r="1.6" fill="#F63F0C"/>
<circle cx="56.87" cy="267.51" r="1.6" fill="#F63F0C"/>
<circle cx="58.86" cy="267.51" r="1.6" fill="#F63F0C"/>
<circle cx="35.89" cy="279.76" r="1.6" fill="#F63F0C"/>
<circle cx="41.56" cy="280.07" r="1.6" fill="#F63F0C"/>
<circle cx="69.12" cy="268.12" r="1.6" fill="#1082F0"/>
<circle cx="37.42" cy="274.71" r="1.6" fill="#1082F0"/>
<circle cx="73.72" cy="277.77" r="1.6" fill="#1082F0"/>
<circle cx="85.97" cy="276.24" r="1.6" fill="#1082F0"/>
<circle cx="48.14" cy="283.90" r="1.6" fill="#1082F0"/>
<circle cx="67.28" cy="282.36" r="1.6" fill="#1082F0"/>
<circle cx="68.51" cy="284.36" r="1.6" fill="#1082F0"/>
<circle cx="91.02" cy="280.07" r="1.6" fill="#1082F0"/>
<circle cx="90.26" cy="282.82" r="1.6" fill="#1082F0"/>
<circle cx="92.55" cy="273.94" r="1.6" fill="#1082F0"/>
<circle cx="58.10" cy="286.96" r="1.6" fill="#1082F0"/>
<circle cx="60.39" cy="287.42" r="1.6" fill="#1082F0"/>
<circle cx="48.91" cy="289.84" r="1.6" fill="#F63F0C"/>
<circle cx="51.66" cy="294.89" r="1.6" fill="#F63F0C"/>
<circle cx="51.97" cy="301.02" r="1.6" fill="#F63F0C"/>
<circle cx="56.57" cy="307.14" r="1.6" fill="#F63F0C"/>
<circle cx="57.79" cy="307.60" r="1.6" fill="#F63F0C"/>
<circle cx="78.77" cy="294.89" r="1.6" fill="#F63F0C"/>
<circle cx="91.02" cy="293.36" r="1.6" fill="#F63F0C"/>
<circle cx="47.38" cy="320.47" r="1.6" fill="#F63F0C"/>
<circle cx="56.87" cy="319.70" r="1.6" fill="#F63F0C"/>
<circle cx="55.80" cy="322.92" r="1.6" fill="#F63F0C"/>
<circle cx="64.22" cy="318.32" r="1.6" fill="#F63F0C"/>
<circle cx="65.45" cy="319.39" r="1.6" fill="#F63F0C"/>
<circle cx="68.05" cy="322.46" r="1.6" fill="#F63F0C"/>
<circle cx="73.10" cy="318.63" r="1.6" fill="#F63F0C"/>
<circle cx="74.94" cy="320.92" r="1.6" fill="#F63F0C"/>
<circle cx="77.70" cy="323.99" r="1.6" fill="#F63F0C"/>
<circle cx="78.77" cy="325.06" r="1.6" fill="#F63F0C"/>
<circle cx="81.07" cy="327.05" r="1.6" fill="#F63F0C"/>
<circle cx="61.47" cy="327.05" r="1.6" fill="#F63F0C"/>
<circle cx="82.60" cy="328.58" r="1.6" fill="#F63F0C"/>
<circle cx="74.64" cy="330.57" r="1.6" fill="#F63F0C"/>
<circle cx="78.00" cy="330.11" r="1.6" fill="#F63F0C"/>
<circle cx="76.17" cy="333.94" r="1.6" fill="#F63F0C"/>
<circle cx="86.89" cy="332.72" r="1.6" fill="#F63F0C"/>
<circle cx="87.19" cy="324.45" r="1.6" fill="#F63F0C"/>
<circle cx="48.14" cy="332.10" r="1.6" fill="#F63F0C"/>
<circle cx="60.85" cy="337.00" r="1.6" fill="#F63F0C"/>
<circle cx="59.32" cy="343.13" r="1.6" fill="#F63F0C"/>
<circle cx="69.58" cy="341.91" r="1.6" fill="#F63F0C"/>
<circle cx="82.60" cy="343.13" r="1.6" fill="#F63F0C"/>
<circle cx="83.36" cy="342.82" r="1.6" fill="#F63F0C"/>
<circle cx="43.09" cy="291.83" r="1.6" fill="#1082F0"/>
<circle cx="47.07" cy="291.83" r="1.6" fill="#1082F0"/>
<circle cx="58.10" cy="288.00" r="1.6" fill="#1082F0"/>
<circle cx="61.16" cy="288.31" r="1.6" fill="#1082F0"/>
<circle cx="61.92" cy="294.43" r="1.6" fill="#1082F0"/>
<circle cx="55.34" cy="298.41" r="1.6" fill="#1082F0"/>
<circle cx="75.71" cy="299.94" r="1.6" fill="#1082F0"/>
<circle cx="72.64" cy="306.68" r="1.6" fill="#1082F0"/>
<circle cx="83.82" cy="306.38" r="1.6" fill="#1082F0"/>
<circle cx="79.84" cy="310.97" r="1.6" fill="#1082F0"/>
<circle cx="84.13" cy="310.21" r="1.6" fill="#1082F0"/>
<circle cx="89.49" cy="310.97" r="1.6" fill="#1082F0"/>
<circle cx="38.95" cy="319.39" r="1.6" fill="#1082F0"/>
<circle cx="38.19" cy="320.92" r="1.6" fill="#1082F0"/>
<circle cx="50.44" cy="319.85" r="1.6" fill="#1082F0"/>
<circle cx="54.27" cy="320.16" r="1.6" fill="#1082F0"/>
<circle cx="53.20" cy="323.99" r="1.6" fill="#1082F0"/>
<circle cx="53.50" cy="325.52" r="1.6" fill="#1082F0"/>
<circle cx="39.41" cy="324.75" r="1.6" fill="#1082F0"/>
<circle cx="41.25" cy="323.99" r="1.6" fill="#1082F0"/>
<circle cx="40.49" cy="326.28" r="1.6" fill="#1082F0"/>
<circle cx="43.55" cy="327.05" r="1.6" fill="#1082F0"/>
<circle cx="38.19" cy="327.05" r="1.6" fill="#1082F0"/>
<circle cx="36.66" cy="329.04" r="1.6" fill="#1082F0"/>
<circle cx="40.49" cy="330.11" r="1.6" fill="#1082F0"/>
<circle cx="41.56" cy="330.57" r="1.6" fill="#1082F0"/>
<circle cx="63.00" cy="315.26" r="1.6" fill="#1082F0"/>
<circle cx="62.69" cy="320.16" r="1.6" fill="#1082F0"/>
<circle cx="66.52" cy="320.92" r="1.6" fill="#1082F0"/>
<circle cx="65.75" cy="325.98" r="1.6" fill="#1082F0"/>
<circle cx="71.11" cy="322.46" r="1.6" fill="#1082F0"/>
<circle cx="73.41" cy="323.99" r="1.6" fill="#1082F0"/>
<circle cx="76.47" cy="322.46" r="1.6" fill="#1082F0"/>
<circle cx="78.77" cy="325.98" r="1.6" fill="#1082F0"/>
<circle cx="70.35" cy="327.51" r="1.6" fill="#1082F0"/>
<circle cx="71.88" cy="329.35" r="1.6" fill="#1082F0"/>
<circle cx="59.63" cy="329.35" r="1.6" fill="#1082F0"/>
<circle cx="60.39" cy="331.64" r="1.6" fill="#1082F0"/>
<circle cx="64.99" cy="329.65" r="1.6" fill="#1082F0"/>
<circle cx="70.35" cy="331.64" r="1.6" fill="#1082F0"/>
<circle cx="71.11" cy="333.64" r="1.6" fill="#1082F0"/>
<circle cx="83.36" cy="328.58" r="1.6" fill="#1082F0"/>
<circle cx="85.66" cy="330.11" r="1.6" fill="#1082F0"/>
<circle cx="79.54" cy="332.41" r="1.6" fill="#1082F0"/>
<circle cx="84.90" cy="332.41" r="1.6" fill="#1082F0"/>
<circle cx="90.26" cy="322.46" r="1.6" fill="#1082F0"/>
<circle cx="91.79" cy="323.53" r="1.6" fill="#1082F0"/>
<circle cx="87.96" cy="320.92" r="1.6" fill="#1082F0"/>
<circle cx="45.08" cy="333.18" r="1.6" fill="#1082F0"/>
<circle cx="46.61" cy="331.64" r="1.6" fill="#1082F0"/>
<circle cx="48.91" cy="333.18" r="1.6" fill="#1082F0"/>
<circle cx="50.44" cy="332.41" r="1.6" fill="#1082F0"/>
<circle cx="43.55" cy="335.47" r="1.6" fill="#1082F0"/>
<circle cx="45.08" cy="337.00" r="1.6" fill="#1082F0"/>
<circle cx="45.85" cy="338.23" r="1.6" fill="#1082F0"/>
<circle cx="51.97" cy="336.70" r="1.6" fill="#1082F0"/>
<circle cx="54.73" cy="342.82" r="1.6" fill="#1082F0"/>
<circle cx="66.98" cy="342.82" r="1.6" fill="#1082F0"/>
<circle cx="87.96" cy="342.82" r="1.6" fill="#1082F0"/>
<circle cx="117.20" cy="246.07" r="1.6" fill="#F63F0C"/>
<circle cx="99.43" cy="269.81" r="1.6" fill="#F63F0C"/>
<circle cx="107.85" cy="240.56" r="1.6" fill="#1082F0"/>
<circle cx="141.24" cy="239.18" r="1.6" fill="#1082F0"/>
<circle cx="127.00" cy="260.92" r="1.6" fill="#1082F0"/>
<circle cx="131.28" cy="260.92" r="1.6" fill="#1082F0"/>
<circle cx="133.58" cy="262.00" r="1.6" fill="#1082F0"/>
<circle cx="93.77" cy="273.94" r="1.6" fill="#1082F0"/>
<circle cx="105.56" cy="271.34" r="1.6" fill="#1082F0"/>
<circle cx="118.27" cy="271.64" r="1.6" fill="#1082F0"/>
<circle cx="119.34" cy="270.11" r="1.6" fill="#1082F0"/>
<circle cx="128.99" cy="270.88" r="1.6" fill="#1082F0"/>
<circle cx="141.70" cy="271.34" r="1.6" fill="#1082F0"/>
<circle cx="148.44" cy="274.55" r="1.6" fill="#1082F0"/>
<circle cx="114.44" cy="277.46" r="1.6" fill="#1082F0"/>
<circle cx="102.49" cy="283.13" r="1.6" fill="#1082F0"/>
<circle cx="108.31" cy="285.43" r="1.6" fill="#1082F0"/>
<circle cx="127.92" cy="286.50" r="1.6" fill="#1082F0"/>
<circle cx="113.67" cy="296.88" r="1.6" fill="#F63F0C"/>
<circle cx="99.89" cy="305.61" r="1.6" fill="#F63F0C"/>
<circle cx="107.55" cy="302.09" r="1.6" fill="#F63F0C"/>
<circle cx="102.95" cy="325.52" r="1.6" fill="#F63F0C"/>
<circle cx="103.72" cy="332.41" r="1.6" fill="#F63F0C"/>
<circle cx="104.94" cy="335.47" r="1.6" fill="#F63F0C"/>
<circle cx="96.37" cy="335.78" r="1.6" fill="#F63F0C"/>
<circle cx="110.61" cy="332.72" r="1.6" fill="#F63F0C"/>
<circle cx="115.21" cy="327.51" r="1.6" fill="#F63F0C"/>
<circle cx="121.33" cy="329.65" r="1.6" fill="#F63F0C"/>
<circle cx="125.47" cy="327.05" r="1.6" fill="#F63F0C"/>
<circle cx="101.42" cy="340.83" r="1.6" fill="#F63F0C"/>
<circle cx="111.68" cy="343.13" r="1.6" fill="#F63F0C"/>
<circle cx="137.72" cy="309.75" r="1.6" fill="#F63F0C"/>
<circle cx="137.10" cy="320.47" r="1.6" fill="#F63F0C"/>
<circle cx="136.19" cy="324.75" r="1.6" fill="#F63F0C"/>
<circle cx="138.64" cy="335.17" r="1.6" fill="#F63F0C"/>
<circle cx="136.19" cy="340.07" r="1.6" fill="#F63F0C"/>
<circle cx="143.84" cy="337.77" r="1.6" fill="#F63F0C"/>
<circle cx="146.91" cy="336.70" r="1.6" fill="#F63F0C"/>
<circle cx="144.30" cy="342.82" r="1.6" fill="#F63F0C"/>
<circle cx="148.13" cy="342.36" r="1.6" fill="#F63F0C"/>
<circle cx="150.89" cy="341.60" r="1.6" fill="#F63F0C"/>
<circle cx="153.03" cy="302.55" r="1.6" fill="#F63F0C"/>
<circle cx="149.36" cy="310.97" r="1.6" fill="#F63F0C"/>
<circle cx="151.96" cy="316.79" r="1.6" fill="#F63F0C"/>
<circle cx="153.49" cy="324.45" r="1.6" fill="#F63F0C"/>
<circle cx="155.48" cy="325.52" r="1.6" fill="#F63F0C"/>
<circle cx="155.02" cy="333.64" r="1.6" fill="#F63F0C"/>
<circle cx="116.74" cy="296.73" r="1.6" fill="#1082F0"/>
<circle cx="101.88" cy="299.94" r="1.6" fill="#1082F0"/>
<circle cx="94.23" cy="302.55" r="1.6" fill="#1082F0"/>
<circle cx="109.08" cy="304.08" r="1.6" fill="#1082F0"/>
<circle cx="110.61" cy="307.14" r="1.6" fill="#1082F0"/>
<circle cx="96.06" cy="309.13" r="1.6" fill="#1082F0"/>
<circle cx="96.83" cy="311.74" r="1.6" fill="#1082F0"/>
<circle cx="106.02" cy="312.20" r="1.6" fill="#1082F0"/>
<circle cx="115.97" cy="314.03" r="1.6" fill="#1082F0"/>
<circle cx="109.85" cy="317.86" r="1.6" fill="#1082F0"/>
<circle cx="95.76" cy="318.63" r="1.6" fill="#1082F0"/>
<circle cx="122.86" cy="310.66" r="1.6" fill="#1082F0"/>
<circle cx="124.85" cy="311.74" r="1.6" fill="#1082F0"/>
<circle cx="123.63" cy="315.57" r="1.6" fill="#1082F0"/>
<circle cx="124.39" cy="319.39" r="1.6" fill="#1082F0"/>
<circle cx="99.13" cy="323.53" r="1.6" fill="#1082F0"/>
<circle cx="93.77" cy="324.75" r="1.6" fill="#1082F0"/>
<circle cx="106.78" cy="325.98" r="1.6" fill="#1082F0"/>
<circle cx="111.38" cy="325.98" r="1.6" fill="#1082F0"/>
<circle cx="114.44" cy="323.53" r="1.6" fill="#1082F0"/>
<circle cx="119.03" cy="324.75" r="1.6" fill="#1082F0"/>
<circle cx="94.84" cy="328.12" r="1.6" fill="#1082F0"/>
<circle cx="98.36" cy="329.04" r="1.6" fill="#1082F0"/>
<circle cx="100.66" cy="330.11" r="1.6" fill="#1082F0"/>
<circle cx="97.90" cy="331.64" r="1.6" fill="#1082F0"/>
<circle cx="97.59" cy="333.64" r="1.6" fill="#1082F0"/>
<circle cx="109.08" cy="330.88" r="1.6" fill="#1082F0"/>
<circle cx="112.91" cy="330.57" r="1.6" fill="#1082F0"/>
<circle cx="116.74" cy="331.19" r="1.6" fill="#1082F0"/>
<circle cx="118.27" cy="333.18" r="1.6" fill="#1082F0"/>
<circle cx="120.57" cy="333.94" r="1.6" fill="#1082F0"/>
<circle cx="121.79" cy="337.00" r="1.6" fill="#1082F0"/>
<circle cx="122.10" cy="339.76" r="1.6" fill="#1082F0"/>
<circle cx="120.26" cy="342.36" r="1.6" fill="#1082F0"/>
<circle cx="124.39" cy="330.88" r="1.6" fill="#1082F0"/>
<circle cx="107.09" cy="340.83" r="1.6" fill="#1082F0"/>
<circle cx="94.23" cy="339.30" r="1.6" fill="#1082F0"/>
<circle cx="126.69" cy="288.77" r="1.6" fill="#1082F0"/>
<circle cx="128.53" cy="294.43" r="1.6" fill="#1082F0"/>
<circle cx="134.65" cy="294.89" r="1.6" fill="#1082F0"/>
<circle cx="137.41" cy="296.42" r="1.6" fill="#1082F0"/>
<circle cx="140.78" cy="297.49" r="1.6" fill="#1082F0"/>
<circle cx="129.45" cy="303.31" r="1.6" fill="#1082F0"/>
<circle cx="138.18" cy="303.01" r="1.6" fill="#1082F0"/>
<circle cx="134.04" cy="308.21" r="1.6" fill="#1082F0"/>
<circle cx="139.71" cy="312.50" r="1.6" fill="#1082F0"/>
<circle cx="127.46" cy="316.33" r="1.6" fill="#1082F0"/>
<circle cx="134.04" cy="316.33" r="1.6" fill="#1082F0"/>
<circle cx="135.57" cy="322.00" r="1.6" fill="#1082F0"/>
<circle cx="130.52" cy="322.00" r="1.6" fill="#1082F0"/>
<circle cx="132.51" cy="323.53" r="1.6" fill="#1082F0"/>
<circle cx="131.28" cy="328.12" r="1.6" fill="#1082F0"/>
<circle cx="133.12" cy="327.51" r="1.6" fill="#1082F0"/>
<circle cx="138.94" cy="326.28" r="1.6" fill="#1082F0"/>
<circle cx="142.77" cy="322.00" r="1.6" fill="#1082F0"/>
<circle cx="145.07" cy="317.86" r="1.6" fill="#1082F0"/>
<circle cx="143.23" cy="329.35" r="1.6" fill="#1082F0"/>
<circle cx="146.29" cy="327.05" r="1.6" fill="#1082F0"/>
<circle cx="146.60" cy="329.35" r="1.6" fill="#1082F0"/>
<circle cx="145.07" cy="331.19" r="1.6" fill="#1082F0"/>
<circle cx="147.36" cy="331.64" r="1.6" fill="#1082F0"/>
<circle cx="149.97" cy="328.12" r="1.6" fill="#1082F0"/>
<circle cx="151.19" cy="333.64" r="1.6" fill="#1082F0"/>
<circle cx="140.78" cy="343.13" r="1.6" fill="#1082F0"/>
<circle cx="142.31" cy="343.13" r="1.6" fill="#1082F0"/>
<circle cx="130.52" cy="341.91" r="1.6" fill="#1082F0"/>
<circle cx="153.95" cy="342.82" r="1.6" fill="#1082F0"/>
<circle cx="155.02" cy="300.25" r="1.6" fill="#1082F0"/>
<circle cx="154.56" cy="312.50" r="1.6" fill="#1082F0"/>
<circle cx="175.65" cy="268.98" r="1.6" fill="#F63F0C"/>
<circle cx="157.76" cy="287.33" r="1.6" fill="#F63F0C"/>
<circle cx="160.36" cy="233.35" r="1.6" fill="#1082F0"/>
<circle cx="170.00" cy="269.74" r="1.6" fill="#1082F0"/>
<circle cx="160.82" cy="273.87" r="1.6" fill="#1082F0"/>
<circle cx="157.00" cy="288.76" r="1.6" fill="#F63F0C"/>
<circle cx="164.34" cy="292.89" r="1.6" fill="#F63F0C"/>
<circle cx="184.52" cy="299.01" r="1.6" fill="#F63F0C"/>
<circle cx="179.63" cy="301.76" r="1.6" fill="#F63F0C"/>
<circle cx="205.62" cy="309.10" r="1.6" fill="#F63F0C"/>
<circle cx="202.57" cy="313.23" r="1.6" fill="#F63F0C"/>
<circle cx="197.52" cy="316.29" r="1.6" fill="#F63F0C"/>
<circle cx="168.47" cy="315.52" r="1.6" fill="#F63F0C"/>
<circle cx="162.81" cy="318.58" r="1.6" fill="#F63F0C"/>
<circle cx="163.42" cy="321.94" r="1.6" fill="#F63F0C"/>
<circle cx="170.76" cy="321.64" r="1.6" fill="#F63F0C"/>
<circle cx="179.94" cy="323.93" r="1.6" fill="#F63F0C"/>
<circle cx="180.70" cy="324.70" r="1.6" fill="#F63F0C"/>
<circle cx="203.64" cy="320.87" r="1.6" fill="#F63F0C"/>
<circle cx="212.81" cy="320.42" r="1.6" fill="#F63F0C"/>
<circle cx="157.76" cy="325.92" r="1.6" fill="#F63F0C"/>
<circle cx="159.29" cy="335.71" r="1.6" fill="#F63F0C"/>
<circle cx="166.94" cy="336.93" r="1.6" fill="#F63F0C"/>
<circle cx="175.35" cy="332.34" r="1.6" fill="#F63F0C"/>
<circle cx="178.10" cy="332.04" r="1.6" fill="#F63F0C"/>
<circle cx="184.83" cy="331.12" r="1.6" fill="#F63F0C"/>
<circle cx="187.58" cy="331.58" r="1.6" fill="#F63F0C"/>
<circle cx="189.87" cy="330.81" r="1.6" fill="#F63F0C"/>
<circle cx="193.70" cy="329.59" r="1.6" fill="#F63F0C"/>
<circle cx="195.23" cy="333.57" r="1.6" fill="#F63F0C"/>
<circle cx="192.47" cy="333.87" r="1.6" fill="#F63F0C"/>
<circle cx="196.76" cy="332.34" r="1.6" fill="#F63F0C"/>
<circle cx="199.05" cy="331.12" r="1.6" fill="#F63F0C"/>
<circle cx="202.87" cy="333.87" r="1.6" fill="#F63F0C"/>
<circle cx="206.69" cy="333.87" r="1.6" fill="#F63F0C"/>
<circle cx="209.75" cy="331.12" r="1.6" fill="#F63F0C"/>
<circle cx="211.28" cy="331.12" r="1.6" fill="#F63F0C"/>
<circle cx="214.34" cy="334.64" r="1.6" fill="#F63F0C"/>
<circle cx="178.41" cy="336.17" r="1.6" fill="#F63F0C"/>
<circle cx="181.46" cy="338.46" r="1.6" fill="#F63F0C"/>
<circle cx="185.29" cy="335.40" r="1.6" fill="#F63F0C"/>
<circle cx="186.82" cy="336.62" r="1.6" fill="#F63F0C"/>
<circle cx="189.11" cy="337.24" r="1.6" fill="#F63F0C"/>
<circle cx="195.23" cy="336.62" r="1.6" fill="#F63F0C"/>
<circle cx="198.28" cy="338.46" r="1.6" fill="#F63F0C"/>
<circle cx="200.58" cy="338.15" r="1.6" fill="#F63F0C"/>
<circle cx="204.40" cy="337.24" r="1.6" fill="#F63F0C"/>
<circle cx="206.69" cy="339.22" r="1.6" fill="#F63F0C"/>
<circle cx="209.75" cy="338.46" r="1.6" fill="#F63F0C"/>
<circle cx="212.81" cy="339.99" r="1.6" fill="#F63F0C"/>
<circle cx="215.10" cy="340.75" r="1.6" fill="#F63F0C"/>
<circle cx="158.53" cy="341.82" r="1.6" fill="#F63F0C"/>
<circle cx="172.29" cy="342.28" r="1.6" fill="#F63F0C"/>
<circle cx="175.35" cy="341.52" r="1.6" fill="#F63F0C"/>
<circle cx="178.10" cy="341.21" r="1.6" fill="#F63F0C"/>
<circle cx="179.94" cy="342.28" r="1.6" fill="#F63F0C"/>
<circle cx="182.23" cy="340.75" r="1.6" fill="#F63F0C"/>
<circle cx="188.35" cy="340.75" r="1.6" fill="#F63F0C"/>
<circle cx="189.87" cy="341.52" r="1.6" fill="#F63F0C"/>
<circle cx="191.40" cy="340.75" r="1.6" fill="#F63F0C"/>
<circle cx="197.52" cy="342.28" r="1.6" fill="#F63F0C"/>
<circle cx="202.87" cy="340.75" r="1.6" fill="#F63F0C"/>
<circle cx="205.17" cy="341.52" r="1.6" fill="#F63F0C"/>
<circle cx="207.46" cy="341.82" r="1.6" fill="#F63F0C"/>
<circle cx="211.28" cy="342.28" r="1.6" fill="#F63F0C"/>
<circle cx="173.51" cy="289.22" r="1.6" fill="#1082F0"/>
<circle cx="174.58" cy="291.36" r="1.6" fill="#1082F0"/>
<circle cx="201.65" cy="290.29" r="1.6" fill="#1082F0"/>
<circle cx="172.29" cy="296.87" r="1.6" fill="#1082F0"/>
<circle cx="164.95" cy="298.70" r="1.6" fill="#1082F0"/>
<circle cx="157.00" cy="301.00" r="1.6" fill="#1082F0"/>
<circle cx="208.22" cy="303.29" r="1.6" fill="#1082F0"/>
<circle cx="173.06" cy="306.65" r="1.6" fill="#1082F0"/>
<circle cx="182.23" cy="306.35" r="1.6" fill="#1082F0"/>
<circle cx="181.16" cy="315.83" r="1.6" fill="#1082F0"/>
<circle cx="183.76" cy="315.22" r="1.6" fill="#1082F0"/>
<circle cx="176.11" cy="317.82" r="1.6" fill="#1082F0"/>
<circle cx="161.59" cy="316.75" r="1.6" fill="#1082F0"/>
<circle cx="165.41" cy="317.05" r="1.6" fill="#1082F0"/>
<circle cx="199.05" cy="316.29" r="1.6" fill="#1082F0"/>
<circle cx="197.06" cy="317.82" r="1.6" fill="#1082F0"/>
<circle cx="192.93" cy="317.82" r="1.6" fill="#1082F0"/>
<circle cx="161.28" cy="322.86" r="1.6" fill="#1082F0"/>
<circle cx="163.88" cy="324.39" r="1.6" fill="#1082F0"/>
<circle cx="166.94" cy="325.46" r="1.6" fill="#1082F0"/>
<circle cx="170.00" cy="324.70" r="1.6" fill="#1082F0"/>
<circle cx="166.17" cy="321.64" r="1.6" fill="#1082F0"/>
<circle cx="190.94" cy="325.00" r="1.6" fill="#1082F0"/>
<circle cx="193.70" cy="325.46" r="1.6" fill="#1082F0"/>
<circle cx="204.71" cy="323.17" r="1.6" fill="#1082F0"/>
<circle cx="205.62" cy="326.99" r="1.6" fill="#1082F0"/>
<circle cx="210.52" cy="325.46" r="1.6" fill="#1082F0"/>
<circle cx="211.74" cy="324.39" r="1.6" fill="#1082F0"/>
<circle cx="160.06" cy="331.12" r="1.6" fill="#1082F0"/>
<circle cx="158.53" cy="333.11" r="1.6" fill="#1082F0"/>
<circle cx="165.41" cy="332.65" r="1.6" fill="#1082F0"/>
<circle cx="167.70" cy="336.17" r="1.6" fill="#1082F0"/>
<circle cx="171.07" cy="338.15" r="1.6" fill="#1082F0"/>
<circle cx="185.75" cy="333.11" r="1.6" fill="#1082F0"/>
<circle cx="187.58" cy="338.46" r="1.6" fill="#1082F0"/>
<circle cx="187.28" cy="340.75" r="1.6" fill="#1082F0"/>
<circle cx="195.99" cy="330.05" r="1.6" fill="#1082F0"/>
<circle cx="200.58" cy="331.12" r="1.6" fill="#1082F0"/>
<circle cx="202.11" cy="331.12" r="1.6" fill="#1082F0"/>
<circle cx="213.57" cy="332.04" r="1.6" fill="#1082F0"/>
<circle cx="162.81" cy="342.28" r="1.6" fill="#1082F0"/>
<circle cx="168.93" cy="343.05" r="1.6" fill="#1082F0"/>
<circle cx="171.53" cy="343.35" r="1.6" fill="#1082F0"/>
<circle cx="173.82" cy="343.05" r="1.6" fill="#1082F0"/>
<circle cx="176.11" cy="342.74" r="1.6" fill="#1082F0"/>
<circle cx="198.59" cy="342.74" r="1.6" fill="#1082F0"/>
<rect x="29.00" y="228.60" width="193.10" height="119.30" fill="none" stroke="#777" stroke-width="1"/>
<line x1="25.60" y1="343.50" x2="29.00" y2="343.50" stroke="#777" stroke-width="1"/>
<text x="24.60" y="343.50" font-size="7.6" text-anchor="middle" fill="#000" stroke="#000" stroke-width="0.15" transform="rotate(-90 24.60 343.50)">0</text>
<line x1="25.60" y1="321.64" x2="29.00" y2="321.64" stroke="#777" stroke-width="1"/>
<text x="24.60" y="321.64" font-size="7.6" text-anchor="middle" fill="#000" stroke="#000" stroke-width="0.15" transform="rotate(-90 24.60 321.64)">2</text>
<line x1="25.60" y1="299.78" x2="29.00" y2="299.78" stroke="#777" stroke-width="1"/>
<text x="24.60" y="299.78" font-size="7.6" text-anchor="middle" fill="#000" stroke="#000" stroke-width="0.15" transform="rotate(-90 24.60 299.78)">4</text>
<line x1="25.60" y1="277.92" x2="29.00" y2="277.92" stroke="#777" stroke-width="1"/>
<text x="24.60" y="277.92" font-size="7.6" text-anchor="middle" fill="#000" stroke="#000" stroke-width="0.15" transform="rotate(-90 24.60 277.92)">6</text>
<line x1="25.60" y1="256.06" x2="29.00" y2="256.06" stroke="#777" stroke-width="1"/>
<text x="24.60" y="256.06" font-size="7.6" text-anchor="middle" fill="#000" stroke="#000" stroke-width="0.15" transform="rotate(-90 24.60 256.06)">8</text>
<line x1="25.60" y1="234.20" x2="29.00" y2="234.20" stroke="#777" stroke-width="1"/>
<text x="24.60" y="234.20" font-size="7.6" text-anchor="middle" fill="#000" stroke="#000" stroke-width="0.15" transform="rotate(-90 24.60 234.20)">10</text>
<line x1="36.40" y1="347.90" x2="36.40" y2="350.60" stroke="#777" stroke-width="1"/>
<text x="37.40" y="360.60" font-size="7.3" text-anchor="middle" fill="#000" stroke="#000" stroke-width="0.15">0</text>
<line x1="85.60" y1="347.90" x2="85.60" y2="350.60" stroke="#777" stroke-width="1"/>
<text x="86.60" y="360.60" font-size="7.3" text-anchor="middle" fill="#000" stroke="#000" stroke-width="0.15">100</text>
<line x1="134.80" y1="347.90" x2="134.80" y2="350.60" stroke="#777" stroke-width="1"/>
<text x="135.80" y="360.60" font-size="7.3" text-anchor="middle" fill="#000" stroke="#000" stroke-width="0.15">200</text>
<line x1="184.00" y1="347.90" x2="184.00" y2="350.60" stroke="#777" stroke-width="1"/>
<text x="185.00" y="360.60" font-size="7.3" text-anchor="middle" fill="#000" stroke="#000" stroke-width="0.15">300</text>
<text x="132.60" y="373.00" font-size="10.45" text-anchor="middle" fill="#000" stroke="#000" stroke-width="0.35">Patients (increasing risk socre)</text>
<text x="15.80" y="286.50" font-size="10.5" text-anchor="middle" fill="#000" stroke="#000" stroke-width="0.35" transform="rotate(-90 15.80 286.50)">Survival time (years)</text>
<line x1="125.50" y1="228.60" x2="125.50" y2="347.90" stroke="#222" stroke-width="0.9" stroke-dasharray="1,1.5"/>
<circle cx="34.00" cy="236.00" r="1.75" fill="#F63F0C"/>
<text x="38.00" y="237.20" font-size="6.9" text-anchor="start" fill="#000" stroke="#000" stroke-width="0.15">Dead</text>
<circle cx="34.00" cy="243.20" r="1.75" fill="#1082F0"/>
<text x="38.00" y="245.90" font-size="6.9" text-anchor="start" fill="#000" stroke="#000" stroke-width="0.15">Alive</text>
<text x="246.40" y="215.90" font-size="14" text-anchor="start" fill="#000" stroke="#000" stroke-width="0.35" class="pl">E</text>
<path d="M281.40,232.60 L283.01,232.60 L283.01,232.60 L285.74,232.60 L285.74,236.41 L287.98,236.41 L287.98,242.24 L289.43,242.24 L289.43,245.29 L291.84,245.29 L291.84,247.70 L293.44,247.70 L293.44,251.63 L296.34,251.63 L296.34,256.08 L299.55,256.08 L299.55,260.52 L300.99,260.52 L300.99,263.82 L304.04,263.82 L304.04,266.10 L307.10,266.10 L307.10,268.13 L311.75,268.13 L311.75,271.30 L314.97,271.30 L314.97,275.11 L324.12,275.11 L324.12,282.09 L334.88,282.09 L334.88,286.66 L345.64,286.66 L345.64,291.35 L354.79,291.35 L354.79,294.40 L360.90,294.40 L360.90,296.68 L363.31,296.68 L363.31,296.68 L374.55,296.68 L374.55,298.59 L393.34,298.59 L393.34,297.95 L443.61,297.95 L443.61,335.14 L393.34,335.14 L393.34,324.48 L374.55,324.48 L374.55,324.48 L363.31,324.48 L363.31,321.43 L360.90,321.43 L360.90,317.62 L354.79,317.62 L354.79,312.55 L345.64,312.55 L345.64,306.58 L334.88,306.58 L334.88,302.01 L324.12,302.01 L324.12,299.86 L314.97,299.86 L314.97,296.05 L311.75,296.05 L311.75,292.24 L307.10,292.24 L307.10,289.96 L304.04,289.96 L304.04,287.17 L300.99,287.17 L300.99,284.63 L299.55,284.63 L299.55,277.65 L296.34,277.65 L296.34,273.08 L293.44,273.08 L293.44,269.40 L291.84,269.40 L291.84,263.94 L289.43,263.94 L289.43,261.79 L287.98,261.79 L287.98,253.16 L285.74,253.16 L285.74,241.48 L283.01,241.48 L283.01,232.60 L281.40,232.60 Z" stroke="none" fill="#F63F0C" stroke-width="1" fill-opacity="0.30"/>
<path d="M281.40,232.60 L286.22,232.60 L286.22,232.60 L294.89,232.60 L294.89,232.60 L297.94,232.60 L297.94,235.14 L300.99,235.14 L300.99,236.66 L302.60,236.66 L302.60,237.68 L305.49,237.68 L305.49,239.71 L307.10,239.71 L307.10,241.48 L311.75,241.48 L311.75,245.80 L313.36,245.80 L313.36,247.83 L316.25,247.83 L316.25,249.73 L318.02,249.73 L318.02,252.52 L319.62,252.52 L319.62,253.79 L334.88,253.79 L334.88,253.79 L336.33,253.79 L336.33,260.01 L342.59,260.01 L342.59,263.06 L351.74,263.06 L351.74,265.34 L353.35,265.34 L353.35,266.86 L359.45,266.86 L359.45,269.91 L360.90,269.91 L360.90,269.91 L375.51,269.91 L375.51,276.76 L393.34,276.76 L393.34,285.64 L418.87,285.64 L418.87,291.99 L425.30,291.99 L425.30,297.95 L433.97,297.95 L433.97,353.15 L425.30,353.15 L425.30,346.81 L418.87,346.81 L418.87,339.20 L393.34,339.20 L393.34,309.76 L375.51,309.76 L375.51,297.32 L360.90,297.32 L360.90,294.40 L359.45,294.40 L359.45,291.35 L353.35,291.35 L353.35,288.44 L351.74,288.44 L351.74,280.57 L342.59,280.57 L342.59,275.75 L336.33,275.75 L336.33,272.95 L334.88,272.95 L334.88,272.95 L319.62,272.95 L319.62,270.67 L318.02,270.67 L318.02,269.40 L316.25,269.40 L316.25,265.47 L313.36,265.47 L313.36,263.06 L311.75,263.06 L311.75,259.38 L307.10,259.38 L307.10,256.71 L305.49,256.71 L305.49,253.16 L302.60,253.16 L302.60,251.63 L300.99,251.63 L300.99,247.07 L297.94,247.07 L297.94,245.29 L294.89,245.29 L294.89,237.68 L286.22,237.68 L286.22,232.60 L281.40,232.60 Z" stroke="none" fill="#1082F0" stroke-width="1" fill-opacity="0.29"/>
<path d="M281.40,232.60 H281.88 V233.36 H285.74 V234.88 H291.04 V235.77 H294.89 V237.17 H297.46 V238.94 H299.55 V240.98 H304.04 V244.15 H306.29 V246.56 H308.70 V249.35 H311.11 V252.27 H313.36 V254.81 H317.05 V258.61 H319.62 V263.82 H334.40 V265.34 H336.33 V266.86 H339.22 V269.15 H342.59 V271.43 H346.44 V273.72 H350.14 V276.00 H352.87 V279.55 H354.79 V282.09 H357.68 V284.63 H360.90 V286.02 H375.35 V294.53 H390.13 V302.65 H393.18 V321.05 H419.52 V331.96 H425.30 V339.70 H433.97" stroke="#1082F0" fill="none" stroke-width="1.5"/>
<path d="M281.40,232.60 H282.20 V235.14 H283.49 V238.69 H284.93 V243.26 H287.18 V249.35 H289.43 V254.81 H292.48 V260.90 H295.69 V265.47 H297.94 V270.16 H299.55 V272.57 H300.99 V273.84 H304.85 V275.49 H308.70 V278.54 H312.56 V282.34 H315.61 V286.91 H321.07 V289.83 H327.17 V294.40 H331.83 V298.97 H340.98 V298.97 H344.03 V302.39 H347.09 V305.06 H357.85 V308.23 H363.15 V312.93 H390.61 V321.05 H443.61" stroke="#F63F0C" fill="none" stroke-width="1.5"/>
<line x1="282.20" y1="233.54" x2="282.20" y2="236.74" stroke="#F63F0C" stroke-width="0.8"/>
<line x1="289.43" y1="253.21" x2="289.43" y2="256.41" stroke="#F63F0C" stroke-width="0.8"/>
<line x1="303.88" y1="272.24" x2="303.88" y2="275.44" stroke="#F63F0C" stroke-width="0.8"/>
<line x1="307.10" y1="273.89" x2="307.10" y2="277.09" stroke="#F63F0C" stroke-width="0.8"/>
<line x1="323.16" y1="288.23" x2="323.16" y2="291.43" stroke="#F63F0C" stroke-width="0.8"/>
<line x1="327.97" y1="292.80" x2="327.97" y2="296.00" stroke="#F63F0C" stroke-width="0.8"/>
<line x1="334.40" y1="297.37" x2="334.40" y2="300.57" stroke="#F63F0C" stroke-width="0.8"/>
<line x1="337.61" y1="297.37" x2="337.61" y2="300.57" stroke="#F63F0C" stroke-width="0.8"/>
<line x1="342.43" y1="297.37" x2="342.43" y2="300.57" stroke="#F63F0C" stroke-width="0.8"/>
<line x1="347.25" y1="303.46" x2="347.25" y2="306.66" stroke="#F63F0C" stroke-width="0.8"/>
<line x1="352.06" y1="303.46" x2="352.06" y2="306.66" stroke="#F63F0C" stroke-width="0.8"/>
<line x1="353.67" y1="303.46" x2="353.67" y2="306.66" stroke="#F63F0C" stroke-width="0.8"/>
<line x1="358.49" y1="306.63" x2="358.49" y2="309.83" stroke="#F63F0C" stroke-width="0.8"/>
<line x1="360.09" y1="306.63" x2="360.09" y2="309.83" stroke="#F63F0C" stroke-width="0.8"/>
<line x1="366.52" y1="311.33" x2="366.52" y2="314.53" stroke="#F63F0C" stroke-width="0.8"/>
<line x1="377.76" y1="311.33" x2="377.76" y2="314.53" stroke="#F63F0C" stroke-width="0.8"/>
<line x1="382.58" y1="311.33" x2="382.58" y2="314.53" stroke="#F63F0C" stroke-width="0.8"/>
<line x1="385.79" y1="311.33" x2="385.79" y2="314.53" stroke="#F63F0C" stroke-width="0.8"/>
<line x1="387.40" y1="311.33" x2="387.40" y2="314.53" stroke="#F63F0C" stroke-width="0.8"/>
<line x1="401.85" y1="319.45" x2="401.85" y2="322.65" stroke="#F63F0C" stroke-width="0.8"/>
<line x1="433.97" y1="319.45" x2="433.97" y2="322.65" stroke="#F63F0C" stroke-width="0.8"/>
<line x1="442.00" y1="319.45" x2="442.00" y2="322.65" stroke="#F63F0C" stroke-width="0.8"/>
<line x1="282.20" y1="231.76" x2="282.20" y2="234.96" stroke="#1082F0" stroke-width="0.8"/>
<line x1="283.01" y1="231.76" x2="283.01" y2="234.96" stroke="#1082F0" stroke-width="0.8"/>
<line x1="287.82" y1="233.28" x2="287.82" y2="236.48" stroke="#1082F0" stroke-width="0.8"/>
<line x1="292.64" y1="234.17" x2="292.64" y2="237.37" stroke="#1082F0" stroke-width="0.8"/>
<line x1="297.46" y1="237.34" x2="297.46" y2="240.54" stroke="#1082F0" stroke-width="0.8"/>
<line x1="323.16" y1="262.22" x2="323.16" y2="265.42" stroke="#1082F0" stroke-width="0.8"/>
<line x1="326.37" y1="262.22" x2="326.37" y2="265.42" stroke="#1082F0" stroke-width="0.8"/>
<line x1="329.58" y1="262.22" x2="329.58" y2="265.42" stroke="#1082F0" stroke-width="0.8"/>
<line x1="331.19" y1="262.22" x2="331.19" y2="265.42" stroke="#1082F0" stroke-width="0.8"/>
<line x1="339.22" y1="267.55" x2="339.22" y2="270.75" stroke="#1082F0" stroke-width="0.8"/>
<line x1="345.64" y1="269.83" x2="345.64" y2="273.03" stroke="#1082F0" stroke-width="0.8"/>
<line x1="350.46" y1="274.40" x2="350.46" y2="277.60" stroke="#1082F0" stroke-width="0.8"/>
<line x1="355.28" y1="280.49" x2="355.28" y2="283.69" stroke="#1082F0" stroke-width="0.8"/>
<line x1="366.52" y1="284.42" x2="366.52" y2="287.62" stroke="#1082F0" stroke-width="0.8"/>
<line x1="369.73" y1="284.42" x2="369.73" y2="287.62" stroke="#1082F0" stroke-width="0.8"/>
<line x1="371.34" y1="284.42" x2="371.34" y2="287.62" stroke="#1082F0" stroke-width="0.8"/>
<line x1="372.94" y1="284.42" x2="372.94" y2="287.62" stroke="#1082F0" stroke-width="0.8"/>
<line x1="379.37" y1="292.93" x2="379.37" y2="296.13" stroke="#1082F0" stroke-width="0.8"/>
<line x1="382.58" y1="292.93" x2="382.58" y2="296.13" stroke="#1082F0" stroke-width="0.8"/>
<line x1="385.79" y1="292.93" x2="385.79" y2="296.13" stroke="#1082F0" stroke-width="0.8"/>
<line x1="389.00" y1="292.93" x2="389.00" y2="296.13" stroke="#1082F0" stroke-width="0.8"/>
<line x1="393.82" y1="319.45" x2="393.82" y2="322.65" stroke="#1082F0" stroke-width="0.8"/>
<line x1="427.55" y1="338.10" x2="427.55" y2="341.30" stroke="#1082F0" stroke-width="0.8"/>
<line x1="432.36" y1="338.10" x2="432.36" y2="341.30" stroke="#1082F0" stroke-width="0.8"/>
<line x1="273.40" y1="226.60" x2="273.40" y2="365.70" stroke="#222" stroke-width="1"/>
<line x1="272.90" y1="365.20" x2="450.00" y2="365.20" stroke="#222" stroke-width="1"/>
<line x1="270.80" y1="359.50" x2="273.40" y2="359.50" stroke="#222" stroke-width="0.8"/>
<text x="269.80" y="361.90" font-size="6.9" text-anchor="end" fill="#000" stroke="#000" stroke-width="0.15">0.00</text>
<line x1="270.80" y1="327.77" x2="273.40" y2="327.77" stroke="#222" stroke-width="0.8"/>
<text x="269.80" y="330.17" font-size="6.9" text-anchor="end" fill="#000" stroke="#000" stroke-width="0.15">0.25</text>
<line x1="270.80" y1="296.05" x2="273.40" y2="296.05" stroke="#222" stroke-width="0.8"/>
<text x="269.80" y="298.45" font-size="6.9" text-anchor="end" fill="#000" stroke="#000" stroke-width="0.15">0.50</text>
<line x1="270.80" y1="264.32" x2="273.40" y2="264.32" stroke="#222" stroke-width="0.8"/>
<text x="269.80" y="266.72" font-size="6.9" text-anchor="end" fill="#000" stroke="#000" stroke-width="0.15">0.75</text>
<line x1="270.80" y1="232.60" x2="273.40" y2="232.60" stroke="#222" stroke-width="0.8"/>
<text x="269.80" y="235.00" font-size="6.9" text-anchor="end" fill="#000" stroke="#000" stroke-width="0.15">1.00</text>
<line x1="281.40" y1="365.20" x2="281.40" y2="367.60" stroke="#222" stroke-width="0.8"/>
<text x="281.40" y="374.20" font-size="6.9" text-anchor="middle" fill="#000" stroke="#000" stroke-width="0.15">0</text>
<line x1="297.46" y1="365.20" x2="297.46" y2="367.60" stroke="#222" stroke-width="0.8"/>
<text x="297.46" y="374.20" font-size="6.9" text-anchor="middle" fill="#000" stroke="#000" stroke-width="0.15">1</text>
<line x1="313.52" y1="365.20" x2="313.52" y2="367.60" stroke="#222" stroke-width="0.8"/>
<text x="313.52" y="374.20" font-size="6.9" text-anchor="middle" fill="#000" stroke="#000" stroke-width="0.15">2</text>
<line x1="329.58" y1="365.20" x2="329.58" y2="367.60" stroke="#222" stroke-width="0.8"/>
<text x="329.58" y="374.20" font-size="6.9" text-anchor="middle" fill="#000" stroke="#000" stroke-width="0.15">3</text>
<line x1="345.64" y1="365.20" x2="345.64" y2="367.60" stroke="#222" stroke-width="0.8"/>
<text x="345.64" y="374.20" font-size="6.9" text-anchor="middle" fill="#000" stroke="#000" stroke-width="0.15">4</text>
<line x1="361.70" y1="365.20" x2="361.70" y2="367.60" stroke="#222" stroke-width="0.8"/>
<text x="361.70" y="374.20" font-size="6.9" text-anchor="middle" fill="#000" stroke="#000" stroke-width="0.15">5</text>
<line x1="377.76" y1="365.20" x2="377.76" y2="367.60" stroke="#222" stroke-width="0.8"/>
<text x="377.76" y="374.20" font-size="6.9" text-anchor="middle" fill="#000" stroke="#000" stroke-width="0.15">6</text>
<line x1="393.82" y1="365.20" x2="393.82" y2="367.60" stroke="#222" stroke-width="0.8"/>
<text x="393.82" y="374.20" font-size="6.9" text-anchor="middle" fill="#000" stroke="#000" stroke-width="0.15">7</text>
<line x1="409.88" y1="365.20" x2="409.88" y2="367.60" stroke="#222" stroke-width="0.8"/>
<text x="409.88" y="374.20" font-size="6.9" text-anchor="middle" fill="#000" stroke="#000" stroke-width="0.15">8</text>
<line x1="425.94" y1="365.20" x2="425.94" y2="367.60" stroke="#222" stroke-width="0.8"/>
<text x="425.94" y="374.20" font-size="6.9" text-anchor="middle" fill="#000" stroke="#000" stroke-width="0.15">9</text>
<line x1="442.00" y1="365.20" x2="442.00" y2="367.60" stroke="#222" stroke-width="0.8"/>
<text x="442.00" y="374.20" font-size="6.9" text-anchor="middle" fill="#000" stroke="#000" stroke-width="0.15">10</text>
<text x="363.00" y="385.80" font-size="10.8" text-anchor="middle" fill="#000" stroke="#000" stroke-width="0.35">Time(years)</text>
<text x="254.40" y="286.90" font-size="10.8" text-anchor="middle" fill="#000" stroke="#000" stroke-width="0.35" transform="rotate(-90 254.40 286.90)">Survival probability</text>
<text x="284.80" y="337.00" font-size="8.1" text-anchor="start" fill="#000" stroke="#000" stroke-width="0.22">p=2.338e−05</text>
<text x="316.10" y="213.80" font-size="6.8" text-anchor="start" fill="#000" stroke="#000" stroke-width="0.15">Risk</text>
<rect x="332.90" y="206.10" width="9.10" height="8.80" fill="#F9C3B0" stroke="none" stroke-width="1"/>
<line x1="333.40" y1="210.50" x2="341.50" y2="210.50" stroke="#F63F0C" stroke-width="1.1"/>
<line x1="337.45" y1="208.50" x2="337.45" y2="212.50" stroke="#F63F0C" stroke-width="0.8"/>
<text x="343.40" y="213.80" font-size="6.8" text-anchor="start" fill="#000" stroke="#000" stroke-width="0.15">High risk</text>
<rect x="371.80" y="206.10" width="9.10" height="8.80" fill="#A8D8F8" stroke="none" stroke-width="1"/>
<line x1="372.30" y1="210.50" x2="380.40" y2="210.50" stroke="#1082F0" stroke-width="1.1"/>
<line x1="376.35" y1="208.50" x2="376.35" y2="212.50" stroke="#1082F0" stroke-width="0.8"/>
<text x="382.00" y="213.80" font-size="6.8" text-anchor="start" fill="#000" stroke="#000" stroke-width="0.15">Low risk</text>
<text x="484.60" y="215.00" font-size="14" text-anchor="start" fill="#000" stroke="#000" stroke-width="0.35" class="pl">F</text>
<line x1="521.30" y1="346.10" x2="668.20" y2="222.30" stroke="#111" stroke-width="1.0" stroke-dasharray="2,1.8"/>
<path d="M521.30,346.10 H521.81 V342.79 H522.33 V339.48 H522.84 V336.17 H523.36 V332.85 H524.14 V329.80 H524.92 V326.75 H525.71 V323.69 H527.25 V319.85 H528.79 V316.02 H530.26 V313.05 H531.00 V309.15 H531.73 V305.25 H533.05 V302.19 H534.37 V299.14 H535.70 V296.08 H538.05 V291.50 H538.39 V287.75 H538.73 V283.99 H539.07 V280.24 H540.62 V276.15 H542.16 V272.07 H545.69 V270.27 H549.21 V268.48 H552.81 V266.25 H556.41 V264.02 H559.49 V260.31 H561.55 V257.03 H563.61 V253.75 H565.66 V250.16 H567.72 V246.56 H570.73 V245.26 H573.74 V243.97 H577.49 V243.97 H581.24 V243.97 H584.98 V243.97 H588.73 V243.97 H592.47 V243.97 H596.22 V243.97 H600.04 V241.49 H602.24 V238.46 H604.45 V235.42 H607.46 V234.43 H610.47 V233.44 H614.43 V232.78 H618.40 V232.12 H622.37 V231.46 H626.48 V230.16 H630.59 V228.86 H633.97 V227.95 H637.35 V227.05 H640.73 V226.14 H645.87 V222.80 H649.62 V222.80 H653.36 V222.80 H657.11 V222.80 H660.86 V222.80 H664.53 V222.55 H668.20 V222.30" stroke="#3EE36A" fill="none" stroke-width="1.5" stroke-linejoin="miter"/>
<path d="M521.30,346.10 H521.48 V342.39 H521.67 V338.67 H521.85 V334.96 H522.03 V331.24 H524.24 V328.27 H526.44 V326.66 H527.18 V323.69 H528.79 V322.08 H530.26 V322.08 H530.55 V319.07 H530.85 V316.06 H531.14 V313.05 H531.44 V309.95 H531.73 V306.86 H533.35 V303.76 H534.96 V300.67 H536.06 V297.63 H537.17 V294.60 H538.05 V290.02 H540.69 V287.73 H543.33 V285.44 H547.15 V280.24 H549.90 V276.85 H552.64 V273.47 H555.38 V270.09 H558.47 V268.54 H561.55 V266.99 H564.93 V265.30 H568.31 V263.61 H571.69 V261.92 H575.75 V260.93 H579.82 V259.94 H583.88 V258.94 H587.31 V257.58 H590.73 V256.22 H594.16 V254.86 H597.10 V253.81 H600.04 V252.75 H602.68 V250.71 H605.33 V248.67 H610.47 V246.56 H613.46 V246.23 H616.44 V245.90 H619.43 V245.57 H621.78 V241.86 H624.13 V238.15 H626.48 V234.43 H629.57 V232.39 H632.65 V230.35 H636.08 V229.65 H639.51 V228.94 H642.93 V228.24 H646.46 V225.89 H649.98 V223.54 H653.61 V223.29 H657.23 V223.04 H660.86 V222.80 H664.53 V222.55 H668.20 V222.30" stroke="#2D8CF0" fill="none" stroke-width="1.5" stroke-linejoin="miter"/>
<path d="M521.30,346.10 H521.30 V342.80 H521.30 V339.50 H521.30 V336.20 H522.33 V333.41 H523.36 V330.62 H524.97 V326.66 H525.09 V323.09 H525.22 V319.52 H525.34 V315.95 H525.46 V312.39 H525.58 V308.82 H525.71 V305.25 H527.18 V304.50 H528.20 V303.02 H529.23 V299.18 H530.26 V295.34 H532.61 V293.36 H536.43 V293.11 H539.52 V291.50 H542.31 V287.85 H545.10 V284.20 H548.33 V282.22 H551.56 V280.24 H554.79 V278.26 H556.34 V275.04 H557.88 V271.82 H561.16 V269.22 H564.44 V266.62 H567.72 V264.02 H570.95 V264.02 H574.18 V264.02 H577.42 V264.02 H580.65 V264.02 H583.88 V264.02 H584.47 V260.93 H588.38 V259.56 H592.30 V258.20 H596.22 V256.84 H599.25 V256.18 H602.29 V255.52 H605.33 V254.86 H608.93 V253.50 H612.52 V252.14 H616.49 V251.45 H620.46 V250.77 H624.50 V247.18 H628.54 V243.59 H630.59 V240.50 H632.65 V237.40 H635.74 V235.92 H638.82 V234.43 H640.29 V231.65 H641.76 V228.86 H645.87 V228.30 H649.98 V227.75 H653.07 V226.22 H656.15 V224.69 H659.24 V223.17 H662.23 V222.88 H665.21 V222.59 H668.20 V222.30" stroke="#F5573A" fill="none" stroke-width="1.5" stroke-linejoin="miter"/>
<rect x="515.20" y="218.20" width="158.80" height="132.20" fill="none" stroke="#777" stroke-width="1"/>
<line x1="511.80" y1="346.10" x2="515.20" y2="346.10" stroke="#777" stroke-width="1"/>
<text x="506.90" y="346.10" font-size="8.8" text-anchor="middle" fill="#000" stroke="#000" stroke-width="0.22" transform="rotate(-90 506.90 346.10)">0.0</text>
<line x1="511.80" y1="321.34" x2="515.20" y2="321.34" stroke="#777" stroke-width="1"/>
<text x="506.90" y="321.34" font-size="8.8" text-anchor="middle" fill="#000" stroke="#000" stroke-width="0.22" transform="rotate(-90 506.90 321.34)">0.2</text>
<line x1="511.80" y1="296.58" x2="515.20" y2="296.58" stroke="#777" stroke-width="1"/>
<text x="506.90" y="296.58" font-size="8.8" text-anchor="middle" fill="#000" stroke="#000" stroke-width="0.22" transform="rotate(-90 506.90 296.58)">0.4</text>
<line x1="511.80" y1="271.82" x2="515.20" y2="271.82" stroke="#777" stroke-width="1"/>
<text x="506.90" y="271.82" font-size="8.8" text-anchor="middle" fill="#000" stroke="#000" stroke-width="0.22" transform="rotate(-90 506.90 271.82)">0.6</text>
<line x1="511.80" y1="247.06" x2="515.20" y2="247.06" stroke="#777" stroke-width="1"/>
<text x="506.90" y="247.06" font-size="8.8" text-anchor="middle" fill="#000" stroke="#000" stroke-width="0.22" transform="rotate(-90 506.90 247.06)">0.8</text>
<line x1="511.80" y1="222.30" x2="515.20" y2="222.30" stroke="#777" stroke-width="1"/>
<text x="506.90" y="222.30" font-size="8.8" text-anchor="middle" fill="#000" stroke="#000" stroke-width="0.22" transform="rotate(-90 506.90 222.30)">1.0</text>
<line x1="521.30" y1="350.40" x2="521.30" y2="354.40" stroke="#777" stroke-width="1"/>
<text x="522.10" y="368.00" font-size="8.8" text-anchor="middle" fill="#000" stroke="#000" stroke-width="0.22">0.0</text>
<line x1="550.68" y1="350.40" x2="550.68" y2="354.40" stroke="#777" stroke-width="1"/>
<text x="551.48" y="368.00" font-size="8.8" text-anchor="middle" fill="#000" stroke="#000" stroke-width="0.22">0.2</text>
<line x1="580.06" y1="350.40" x2="580.06" y2="354.40" stroke="#777" stroke-width="1"/>
<text x="580.86" y="368.00" font-size="8.8" text-anchor="middle" fill="#000" stroke="#000" stroke-width="0.22">0.4</text>
<line x1="609.44" y1="350.40" x2="609.44" y2="354.40" stroke="#777" stroke-width="1"/>
<text x="610.24" y="368.00" font-size="8.8" text-anchor="middle" fill="#000" stroke="#000" stroke-width="0.22">0.6</text>
<line x1="638.82" y1="350.40" x2="638.82" y2="354.40" stroke="#777" stroke-width="1"/>
<text x="639.62" y="368.00" font-size="8.8" text-anchor="middle" fill="#000" stroke="#000" stroke-width="0.22">0.8</text>
<line x1="668.20" y1="350.40" x2="668.20" y2="354.40" stroke="#777" stroke-width="1"/>
<text x="669.00" y="368.00" font-size="8.8" text-anchor="middle" fill="#000" stroke="#000" stroke-width="0.22">1.0</text>
<text x="595.00" y="386.80" font-size="10.3" text-anchor="middle" fill="#000" stroke="#000" stroke-width="0.35">1−Specificity</text>
<text x="491.20" y="276.60" font-size="10.6" text-anchor="middle" fill="#000" stroke="#000" stroke-width="0.35" transform="rotate(-90 491.20 276.60)">Sensitivity</text>
<line x1="582.70" y1="326.20" x2="596.00" y2="326.20" stroke="#40E060" stroke-width="1.6"/>
<text x="601.90" y="328.70" font-size="7.0" text-anchor="start" fill="#000" stroke="#000" stroke-width="0.15">AUC at 1 years: 0.778</text>
<line x1="582.70" y1="334.60" x2="596.00" y2="334.60" stroke="#2030F0" stroke-width="1.2"/>
<text x="601.90" y="337.10" font-size="7.0" text-anchor="start" fill="#000" stroke="#000" stroke-width="0.15">AUC at 2 years: 0.713</text>
<line x1="582.70" y1="343.00" x2="596.00" y2="343.00" stroke="#F07070" stroke-width="1.6"/>
<text x="601.90" y="345.50" font-size="7.0" text-anchor="start" fill="#000" stroke="#000" stroke-width="0.15">AUC at 3 years: 0.697</text>
</g>
</svg></div></body></html>
